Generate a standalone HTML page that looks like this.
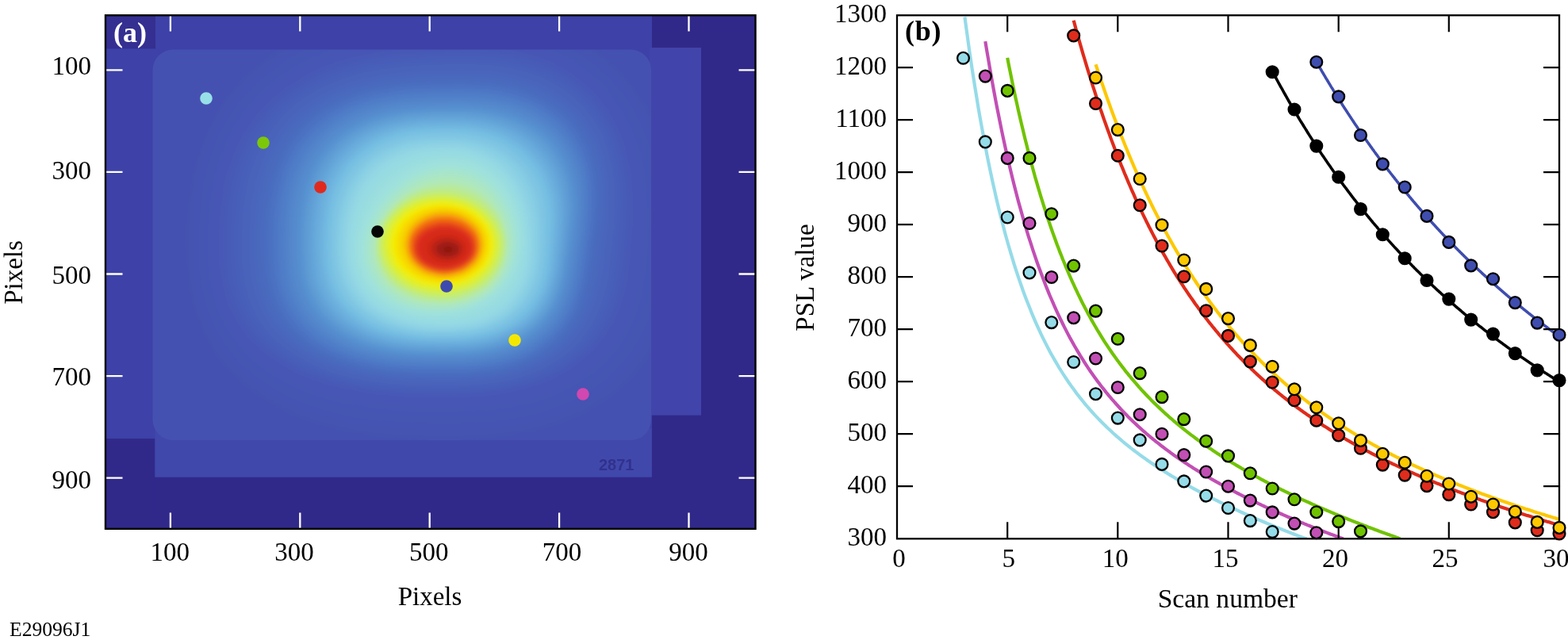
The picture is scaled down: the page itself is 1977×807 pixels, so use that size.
<!DOCTYPE html>
<html><head><meta charset="utf-8"><style>
html,body{margin:0;padding:0;background:#fff;}
body{width:1977px;height:807px;overflow:hidden;}
svg{display:block;}
</style></head><body>
<svg width="1977" height="807" viewBox="0 0 1977 807">
<rect width="1977" height="807" fill="#fff"/>
<g id="pa">
<defs>
<clipPath id="ca"><rect x="133" y="19.3" width="819.5" height="647.5"/></clipPath>
<clipPath id="cp"><rect x="192.5" y="62.4" width="628.5" height="492.6" rx="26"/></clipPath>
<filter id="hb" x="-5%" y="-5%" width="110%" height="110%"><feGaussianBlur stdDeviation="3"/></filter>
</defs>
<g clip-path="url(#ca)">
<rect x="133" y="19" width="820" height="648" fill="#3d41a8"/>
<rect x="822" y="19" width="131" height="41.2" fill="#31298a"/>
<rect x="884" y="60" width="69" height="607" fill="#31298a"/>
<rect x="822" y="523.6" width="131" height="144" fill="#31298a"/>
<rect x="133" y="601.5" width="820" height="66" fill="#31298a"/>
<rect x="133" y="553" width="62.5" height="114" fill="#31298a"/>
<rect x="195.5" y="540" width="626" height="61.5" fill="#4148ac"/>
<rect x="819" y="60.2" width="65" height="463" fill="#4145ab"/>
<rect x="134" y="20" width="62" height="41.4" fill="#352f92"/>
<g clip-path="url(#cp)"><g filter="url(#hb)">
<rect x="180" y="50" width="660" height="520" fill="#4451b0"/>
<path d="M860,310 859,336 857,362 852,388 844,414 834,438 820,460 803,480 784,498 763,513 741,526 718,536 695,544 672,550 649,554 626,557 604,559 582,560 560,560 538,560 516,559 494,558 471,555 447,552 423,547 399,540 374,531 350,520 326,506 303,490 283,470 265,447 251,422 241,396 234,367 231,339 230,310 230,281 233,252 237,223 244,195 254,167 268,141 284,117 303,94 325,75 349,58 374,44 400,33 427,25 454,18 481,14 507,12 534,10 560,10 586,10 613,12 639,15 665,20 691,28 717,38 741,51 764,67 785,85 803,106 819,129 832,153 842,179 850,205 855,231 858,257 860,284Z" fill="#4451b0"/>
<path d="M855,310 854,336 852,361 847,387 839,412 828,435 815,457 798,477 780,494 759,509 738,522 715,532 692,539 670,545 647,549 625,552 603,554 581,555 560,555 539,555 517,554 495,553 472,551 449,547 426,542 402,536 377,528 353,517 330,503 307,487 287,468 269,446 255,421 245,395 238,367 235,338 234,310 234,282 236,253 241,224 248,196 258,169 271,143 287,119 306,97 328,78 351,61 376,48 402,37 429,29 455,22 482,18 508,16 534,15 560,14 586,14 612,16 638,19 664,24 690,32 715,42 739,54 762,70 782,88 800,109 815,131 828,155 838,180 845,206 850,232 853,258 854,284Z" fill="#4452b0"/>
<path d="M849,310 849,335 846,360 841,385 834,410 823,433 810,454 794,474 776,491 755,505 734,518 712,527 690,535 668,541 645,545 624,547 602,549 581,550 560,550 539,550 518,549 496,548 474,546 452,543 428,538 405,532 381,524 357,513 333,500 311,484 291,465 273,444 259,420 248,393 242,366 238,338 238,310 238,282 240,254 245,225 251,198 261,171 274,145 290,121 309,100 331,81 354,65 379,51 404,41 431,32 457,27 483,22 509,20 535,19 560,18 585,19 611,20 637,23 663,28 688,35 713,45 737,57 759,73 779,91 797,111 812,134 824,157 834,182 841,208 845,234 848,259 849,285Z" fill="#4452b1"/>
<path d="M844,310 843,335 841,359 836,384 828,408 818,430 805,452 789,471 771,487 752,502 731,513 709,523 687,530 665,536 644,540 622,542 601,544 581,545 560,545 539,545 519,544 498,543 476,541 454,538 431,534 408,528 384,520 360,510 337,497 315,482 295,463 277,442 263,418 252,392 246,365 242,338 241,310 242,282 244,254 248,226 255,199 265,172 278,147 294,124 313,102 334,84 357,68 381,55 407,44 432,36 458,31 484,27 510,24 535,23 560,23 585,23 610,24 636,27 661,31 687,38 711,48 735,61 757,76 776,94 794,114 808,136 820,160 829,184 836,210 840,235 843,260 844,285Z" fill="#4453b1"/>
<path d="M838,310 838,334 835,359 830,382 823,406 813,428 800,449 785,467 767,484 748,498 727,509 706,519 685,526 663,531 642,535 621,538 600,539 580,540 560,540 540,540 520,539 499,538 478,536 456,533 434,529 411,523 387,516 364,506 341,494 319,479 299,461 281,440 267,417 256,391 249,365 246,337 245,310 246,283 248,255 252,227 259,200 268,174 281,149 297,126 316,105 337,87 359,71 384,58 409,48 434,40 460,35 485,31 510,28 535,27 560,27 585,27 610,28 635,31 660,35 685,42 709,51 733,64 754,79 774,96 791,116 805,138 817,162 825,186 832,211 836,236 838,261 839,286Z" fill="#4553b2"/>
<path d="M833,310 832,334 830,358 825,381 818,404 808,426 795,446 780,464 763,480 744,494 724,505 703,514 682,521 661,526 640,530 620,533 600,534 580,535 560,535 540,535 520,534 500,533 479,531 458,529 436,525 414,519 391,512 367,503 345,491 323,476 302,459 285,438 270,415 260,390 253,364 250,337 249,310 250,283 252,256 256,228 262,202 272,176 285,151 300,128 319,108 340,90 362,74 386,62 411,52 436,44 461,39 486,35 511,33 536,31 560,31 584,31 609,32 634,34 659,39 683,45 707,55 730,67 752,82 771,99 788,119 802,141 813,164 821,188 827,213 831,237 833,262 833,286Z" fill="#4554b2"/>
<path d="M828,310 827,333 824,357 820,380 813,402 803,423 791,443 776,461 759,477 740,490 720,501 700,510 679,517 659,522 638,525 618,528 599,529 579,530 560,530 541,530 521,529 501,528 481,527 460,524 439,520 416,515 394,508 371,499 348,488 327,473 306,456 289,436 274,414 264,389 257,363 254,337 253,310 253,283 255,256 259,229 266,203 276,177 288,153 304,130 322,110 342,92 365,77 389,65 413,56 438,48 463,43 487,39 512,37 536,36 560,35 584,35 608,36 633,38 657,42 682,49 705,58 728,70 749,84 768,102 785,122 798,143 809,166 817,190 823,214 826,239 828,263 828,287Z" fill="#4554b2"/>
<path d="M822,310 821,333 819,356 814,378 807,400 798,421 786,440 771,458 754,473 736,486 717,497 697,505 677,512 657,517 637,521 617,523 598,524 579,525 560,525 541,525 522,524 503,523 483,522 462,519 441,516 419,511 397,504 375,495 352,484 330,471 310,454 293,435 278,413 268,388 261,363 258,336 257,310 257,284 259,257 263,230 270,204 279,179 291,155 307,133 325,113 345,95 368,81 391,69 415,59 440,52 464,47 489,43 513,41 536,40 560,39 584,39 608,40 632,42 656,46 680,52 704,61 726,73 747,87 765,105 781,124 795,146 805,168 813,192 818,216 821,240 823,264 823,287Z" fill="#4555b3"/>
<path d="M817,310 816,332 813,355 809,377 802,398 793,419 781,438 767,455 750,470 732,482 713,493 694,501 674,508 654,512 635,516 616,518 597,519 578,520 560,520 542,520 523,519 504,519 485,517 465,515 444,511 422,507 400,500 378,492 356,481 334,468 314,452 297,433 282,411 271,387 265,362 261,336 261,310 261,284 263,258 267,231 273,206 283,181 295,157 310,135 328,115 348,98 370,84 393,72 417,63 442,56 466,51 490,47 513,45 537,44 560,44 583,43 607,44 631,46 655,50 678,56 702,65 724,76 744,90 763,107 778,127 791,148 801,171 809,194 814,218 816,241 818,265 818,287Z" fill="#4556b3"/>
<path d="M812,310 810,332 808,354 803,375 797,396 788,416 776,435 762,451 746,466 728,478 710,489 691,497 671,503 652,508 633,511 614,513 596,514 578,515 560,515 542,515 524,515 505,514 486,512 467,510 446,507 425,502 404,496 382,488 360,478 338,465 318,450 300,431 286,410 275,386 268,361 265,336 264,310 265,284 267,258 271,232 277,207 286,182 298,159 313,137 331,118 351,101 373,87 396,76 420,67 443,60 467,55 491,52 514,50 537,48 560,48 583,47 606,48 630,50 653,54 677,59 700,68 722,79 742,93 760,110 775,129 788,150 798,173 804,196 809,219 812,243 813,265 812,288Z" fill="#4656b4"/>
<path d="M806,310 805,331 802,353 798,374 791,394 783,414 771,432 757,448 742,463 725,475 706,485 688,492 669,498 650,503 631,506 613,508 595,509 577,510 560,510 543,510 525,510 507,509 488,507 469,505 449,502 428,498 407,492 385,485 363,475 342,463 322,447 304,429 290,408 279,385 272,361 269,335 268,310 269,285 270,259 274,233 281,208 290,184 302,161 317,140 334,121 354,104 376,90 398,79 422,70 445,64 469,59 492,56 515,54 537,53 560,52 583,52 606,52 629,54 652,57 675,63 698,71 719,82 739,96 757,113 772,132 784,153 794,175 800,198 805,221 807,244 807,266 807,288Z" fill="#4657b4"/>
<path d="M801,310 799,331 797,352 792,372 786,392 777,411 766,429 753,445 738,459 721,471 703,480 685,488 666,494 648,498 630,501 612,503 594,504 577,505 560,505 543,505 526,505 508,504 490,503 471,501 452,498 431,494 410,488 389,481 367,472 346,460 326,445 308,427 294,407 283,384 276,360 273,335 272,310 273,285 274,260 278,234 284,210 293,186 305,163 320,142 337,123 357,107 378,94 401,83 424,74 447,68 470,63 493,60 516,58 538,57 560,56 582,56 605,56 628,58 651,61 674,66 696,74 717,85 737,99 754,116 769,135 781,155 790,177 796,200 800,223 802,245 802,267 802,289Z" fill="#4657b5"/>
<path d="M795,310 794,330 791,351 787,371 781,390 772,409 761,426 748,442 733,455 717,467 700,476 682,484 664,489 646,493 628,496 610,498 593,499 577,500 560,500 543,500 527,500 509,499 492,498 473,496 454,493 434,490 414,485 392,478 371,469 350,457 330,443 312,426 298,406 287,383 280,359 277,335 276,310 276,285 278,260 282,235 288,211 297,187 309,165 323,144 341,126 360,110 381,97 403,86 426,78 449,72 472,67 494,64 516,62 538,61 560,60 582,60 604,60 627,61 649,65 672,70 694,78 715,88 734,102 752,118 766,137 777,158 786,179 792,202 796,224 797,246 797,268 797,289Z" fill="#4658b5"/>
<path d="M791,310 790,330 787,350 783,370 777,389 769,407 758,425 746,440 731,453 715,465 698,474 680,482 662,487 645,491 627,494 610,496 593,497 576,498 560,498 544,498 527,497 510,497 492,496 474,494 455,491 436,487 415,482 394,476 373,467 353,455 333,441 316,424 302,404 291,382 285,359 281,334 281,310 281,286 283,261 286,237 292,213 301,189 312,167 327,147 344,129 363,113 384,100 405,89 428,81 450,75 473,71 495,68 517,66 539,65 560,64 582,63 603,63 626,65 648,68 670,73 692,81 713,92 732,105 749,121 763,140 775,160 783,181 789,203 792,226 794,247 794,269 793,290Z" fill="#465ab6"/>
<path d="M788,310 786,330 783,349 779,369 774,388 765,406 755,423 743,438 728,451 713,463 696,472 679,479 661,485 644,489 626,492 609,494 593,495 576,495 560,496 544,495 527,495 511,495 493,493 475,492 457,489 437,485 417,480 397,473 376,465 355,453 336,439 320,422 306,403 296,381 289,358 286,334 285,310 286,286 287,262 291,238 297,214 305,191 316,169 330,149 347,131 366,116 386,103 408,92 430,84 452,78 474,74 496,71 518,69 539,68 560,67 581,67 603,67 625,68 647,71 669,77 690,84 711,95 730,108 746,124 760,142 772,162 780,183 785,205 789,227 790,248 790,269 789,290Z" fill="#475bb7"/>
<path d="M784,310 782,329 779,349 776,368 770,386 762,404 752,421 740,436 726,449 711,461 694,470 677,477 660,483 642,487 625,490 609,492 592,493 576,493 560,493 544,493 528,493 511,492 494,491 476,489 458,487 439,483 419,478 399,471 378,463 358,451 340,437 323,420 310,401 300,380 294,357 291,334 290,310 291,286 292,263 295,239 301,216 309,193 320,172 334,152 350,134 369,119 389,106 410,95 432,87 453,81 475,77 497,74 518,73 539,71 560,71 581,70 602,71 624,72 646,75 667,80 688,87 709,98 727,111 744,126 758,144 769,164 777,185 782,206 785,228 786,249 786,270 785,290Z" fill="#475db8"/>
<path d="M780,310 778,329 775,348 772,367 766,385 759,403 749,419 737,434 724,447 708,458 692,468 676,475 658,481 641,485 625,488 608,489 592,490 576,491 560,491 544,491 528,491 512,490 495,489 477,487 459,485 440,481 421,476 401,469 381,460 361,449 343,435 327,419 314,400 304,379 298,356 296,333 295,310 295,287 297,264 300,240 305,217 313,195 324,174 337,154 353,137 371,121 391,109 412,99 433,91 455,85 476,81 498,78 519,76 539,75 560,74 581,74 602,74 623,75 644,78 666,83 687,91 707,101 725,113 741,129 755,147 766,166 773,187 779,208 782,229 783,250 782,271 781,291Z" fill="#475fb8"/>
<path d="M776,310 774,329 772,347 768,366 762,384 755,401 746,417 734,432 721,445 706,456 690,465 674,473 657,478 640,482 624,485 607,487 591,488 576,489 560,489 544,489 529,488 512,488 496,487 478,485 460,482 442,479 423,474 403,467 383,458 364,447 346,433 331,417 318,398 309,377 303,355 300,333 300,310 300,287 301,264 305,242 310,219 318,197 328,176 341,157 357,139 374,124 394,112 414,102 435,94 457,88 478,84 499,81 519,79 540,78 560,78 580,77 601,78 622,79 643,82 664,87 685,94 704,104 723,116 739,131 752,149 763,168 770,189 775,210 778,231 779,251 779,271 777,291Z" fill="#4860b9"/>
<path d="M772,310 770,328 768,347 764,365 759,382 752,399 743,415 732,430 719,443 704,454 689,463 672,471 656,476 639,480 623,483 607,485 591,486 575,486 560,487 545,486 529,486 513,486 496,484 479,483 462,480 443,477 424,472 405,465 386,456 367,445 349,432 334,415 322,397 313,376 308,355 305,332 304,310 305,288 306,265 309,243 314,221 322,199 332,178 345,159 360,142 377,127 396,115 416,105 437,97 458,91 479,87 500,85 520,83 540,82 560,81 580,81 600,81 621,82 642,85 663,90 683,97 702,107 720,119 736,134 749,151 760,170 767,190 772,211 775,232 775,252 775,272 774,291Z" fill="#4862ba"/>
<path d="M768,310 766,328 764,346 760,364 755,381 748,398 740,414 729,428 716,441 702,452 687,461 671,468 655,474 638,478 622,481 606,483 591,484 575,484 560,484 545,484 529,484 514,483 497,482 480,481 463,478 445,474 426,470 407,463 388,454 370,443 353,430 338,414 326,395 317,375 312,354 310,332 309,310 310,288 311,266 314,244 319,222 326,201 336,180 348,162 363,145 380,130 399,118 419,108 439,100 460,95 480,91 501,88 521,86 540,85 560,85 580,84 600,85 620,86 641,89 661,93 681,100 700,110 718,122 733,137 746,154 757,172 764,192 769,213 771,233 772,253 771,273 770,292Z" fill="#4864bb"/>
<path d="M764,310 762,328 760,345 756,363 751,380 745,396 736,412 726,426 714,439 700,450 685,459 669,466 653,472 637,476 621,479 606,480 590,481 575,482 560,482 545,482 530,482 514,481 498,480 482,478 464,476 446,472 428,467 409,461 391,452 373,441 356,428 342,412 330,394 322,374 317,353 314,331 314,310 314,288 315,267 318,245 323,224 330,203 340,183 352,164 366,147 383,133 401,121 421,111 441,103 461,98 481,94 501,91 521,90 541,89 560,88 579,88 599,88 619,89 639,92 659,97 679,104 698,113 715,125 731,139 744,156 754,174 761,194 765,214 768,234 768,254 767,273 766,292Z" fill="#4965bc"/>
<path d="M760,310 758,327 756,345 752,362 748,378 741,395 733,410 723,424 711,437 698,448 683,457 668,464 652,470 636,474 621,476 605,478 590,479 575,480 560,480 545,480 530,479 515,479 499,478 483,476 466,474 448,470 430,465 411,459 393,450 375,439 359,426 345,410 334,392 326,373 321,352 319,331 319,310 319,289 320,268 323,246 327,225 334,205 343,185 355,167 369,150 386,136 404,124 423,114 443,107 463,101 483,97 502,95 522,93 541,92 560,92 579,91 598,92 618,93 638,96 658,100 677,107 696,116 713,128 728,142 741,158 751,176 758,196 762,216 764,236 765,255 764,274 762,292Z" fill="#4967bc"/>
<path d="M756,310 754,327 752,344 749,361 744,377 738,393 730,408 720,422 709,435 696,446 681,455 666,462 651,467 635,471 620,474 604,476 589,477 575,477 560,478 545,477 531,477 515,477 500,476 484,474 467,471 449,468 432,463 413,457 395,448 378,437 362,424 349,408 338,391 331,371 326,351 324,331 323,310 324,289 325,269 327,248 332,227 338,207 347,187 359,169 373,153 389,139 406,127 425,117 444,110 464,104 484,101 503,98 522,97 541,96 560,95 579,95 598,95 617,96 637,99 656,104 675,110 694,119 711,131 726,144 738,161 748,179 755,198 759,217 761,237 761,256 760,275 758,293Z" fill="#4969bd"/>
<path d="M752,310 750,327 748,343 745,359 740,376 735,391 727,406 718,420 706,433 694,444 680,453 665,460 650,465 634,469 619,472 604,474 589,475 574,475 560,475 546,475 531,475 516,474 501,473 485,472 468,469 451,466 433,461 416,454 398,446 381,435 366,422 353,407 342,389 335,370 331,350 329,330 328,310 328,290 330,269 332,249 336,229 342,209 351,189 362,172 376,156 392,142 409,130 427,120 446,113 466,108 485,104 504,102 523,100 542,99 560,99 579,99 597,99 616,100 635,103 655,107 674,113 692,122 708,133 723,147 735,163 745,181 751,199 756,219 757,238 757,257 756,275 754,293Z" fill="#4a6abe"/>
<path d="M748,310 746,326 744,342 741,358 737,374 731,390 724,405 715,418 704,431 691,441 678,450 663,457 648,463 633,467 618,470 603,471 589,472 574,473 560,473 546,473 531,473 517,472 501,471 486,469 469,467 452,464 435,459 418,452 400,444 384,433 369,420 356,405 346,388 339,369 335,350 333,330 333,310 333,290 334,270 337,250 341,230 347,211 355,192 366,174 379,158 394,144 411,133 429,123 448,116 467,111 486,107 505,105 524,104 542,103 560,102 578,102 597,102 615,104 634,106 653,110 672,117 689,125 706,136 720,150 732,165 742,183 748,201 752,220 754,239 754,258 752,276 750,293Z" fill="#4a6cbf"/>
<path d="M745,310 743,326 741,342 738,358 734,373 729,389 721,403 712,417 702,429 689,439 676,448 662,455 647,461 632,465 617,467 603,469 588,470 574,470 560,471 546,470 532,470 517,470 502,469 487,467 471,465 454,461 437,456 420,450 403,442 387,431 372,418 360,403 350,386 344,368 339,349 338,329 337,310 337,291 338,271 341,251 345,232 351,212 359,194 369,177 382,161 397,147 414,136 432,127 450,119 469,114 487,111 506,108 524,107 542,106 560,106 578,105 596,106 614,107 633,109 652,113 670,120 687,128 703,139 718,152 730,168 739,185 745,203 749,222 751,240 751,259 750,277 748,294Z" fill="#4b70c1"/>
<path d="M743,310 741,326 738,341 735,357 731,372 726,387 719,402 710,415 699,427 687,437 674,446 660,453 646,458 631,462 616,465 602,467 588,468 574,468 560,468 546,468 532,468 518,467 503,466 488,465 472,462 456,459 439,454 422,448 406,439 390,429 376,416 364,402 354,385 348,367 344,348 342,329 342,310 342,291 343,272 345,252 349,233 355,214 363,196 373,179 386,164 400,150 416,139 434,130 452,123 470,117 489,114 507,111 525,110 542,109 560,109 578,109 595,109 614,110 632,113 650,117 668,123 685,131 701,142 715,155 727,170 736,187 742,205 746,223 748,242 748,260 747,277 745,294Z" fill="#4c73c2"/>
<path d="M740,310 738,326 736,341 733,356 729,371 723,386 716,400 708,413 697,425 685,435 672,444 659,451 644,456 630,460 615,462 601,464 587,465 574,465 560,466 546,465 533,465 519,465 504,464 489,462 474,460 458,456 441,452 425,445 408,437 393,427 379,414 367,400 358,383 352,366 348,347 346,329 346,310 346,291 347,272 349,254 353,235 358,216 366,198 376,181 389,166 403,153 419,142 436,133 454,126 472,121 490,117 508,115 525,113 543,113 560,112 577,112 595,112 613,113 631,116 649,120 666,126 683,134 699,145 713,157 724,172 733,189 740,206 743,224 745,243 745,260 744,278 742,294Z" fill="#4e77c4"/>
<path d="M737,310 735,325 733,340 730,356 726,370 721,385 714,399 705,412 695,423 683,433 671,442 657,448 643,454 629,457 615,460 601,462 587,463 573,463 560,463 547,463 533,463 519,462 505,461 490,460 475,457 459,454 443,449 427,443 411,435 396,425 383,412 371,398 362,382 356,365 352,347 351,328 350,310 350,292 351,273 353,255 357,236 362,218 370,200 380,184 392,169 406,156 421,145 438,136 456,129 473,124 491,120 509,118 526,117 543,116 560,116 577,115 594,116 612,117 629,119 647,123 664,129 681,137 696,147 710,160 721,175 730,191 737,208 741,226 742,244 742,261 741,278 739,294Z" fill="#4f7ac6"/>
<path d="M734,310 732,325 730,340 727,355 723,369 718,384 711,397 703,410 693,421 681,431 669,440 655,446 642,451 628,455 614,457 600,459 586,460 573,460 560,461 547,460 534,460 520,460 506,459 491,457 476,455 461,451 445,447 429,441 414,433 399,423 386,411 375,396 366,381 360,364 356,346 355,328 354,310 355,292 356,274 358,256 361,238 366,220 374,202 383,186 395,172 409,159 424,148 440,139 457,132 475,127 492,124 509,121 527,120 543,119 560,119 577,119 594,119 611,120 628,123 646,126 663,132 679,140 694,150 707,163 719,177 728,193 734,210 738,227 739,245 739,262 738,279 736,295Z" fill="#507ec8"/>
<path d="M731,310 729,325 727,339 724,354 721,368 715,382 709,396 701,408 691,420 679,429 667,437 654,444 640,449 626,453 613,455 599,457 586,458 573,458 560,458 547,458 534,458 521,457 507,456 493,455 478,452 463,449 447,444 432,438 417,430 402,420 389,409 378,395 370,379 364,362 361,345 359,328 359,310 359,292 360,275 362,257 365,239 370,222 378,205 387,189 398,174 412,162 426,151 442,142 459,135 476,130 493,127 510,125 527,123 544,123 560,122 576,122 593,122 610,123 627,126 644,130 661,135 677,143 692,153 705,165 716,179 725,195 731,211 735,229 736,246 736,263 735,279 733,295Z" fill="#5182c9"/>
<path d="M729,310 727,325 724,339 722,353 718,367 713,381 706,394 698,407 688,418 677,427 665,435 652,442 639,447 625,450 612,453 599,454 586,455 573,455 560,456 547,455 534,455 521,455 508,454 494,452 479,450 464,446 449,442 434,436 419,428 405,418 393,407 382,393 374,378 368,361 365,344 363,327 363,310 363,293 364,275 366,258 369,241 374,223 381,207 390,191 401,177 414,164 429,154 445,145 461,139 478,134 495,130 511,128 528,127 544,126 560,126 576,125 593,126 609,127 626,129 643,133 659,138 675,146 689,156 702,168 713,181 722,197 728,213 732,230 733,247 733,264 732,280 731,295Z" fill="#5285cb"/>
<path d="M726,310 724,324 722,339 719,353 715,366 710,380 704,393 696,405 686,416 675,425 663,433 651,439 637,444 624,448 611,450 598,452 585,453 573,453 560,453 547,453 535,453 522,452 509,451 495,450 481,447 466,444 451,440 436,434 422,426 408,416 396,405 386,391 378,376 372,360 369,344 368,327 367,310 368,293 368,276 370,259 373,242 378,225 385,209 394,194 405,180 417,167 432,157 447,148 463,142 479,137 496,133 512,131 528,130 544,129 560,129 576,129 592,129 608,130 625,132 641,136 657,142 673,149 687,159 700,170 711,184 719,199 725,215 729,231 730,248 731,264 729,280 728,295Z" fill="#5489cd"/>
<path d="M723,310 721,324 719,338 716,352 712,365 708,379 701,392 693,403 684,414 673,423 662,431 649,437 636,442 623,445 610,448 597,449 585,450 572,450 560,451 548,450 535,450 523,450 510,449 496,447 482,445 468,442 453,437 439,431 425,424 411,414 399,403 390,390 382,375 377,359 373,343 372,326 372,310 372,294 373,277 374,260 377,244 382,227 389,211 397,196 408,182 420,170 434,160 449,152 465,145 481,140 497,137 513,135 529,133 544,133 560,132 576,132 591,132 607,133 623,136 640,139 655,145 671,152 685,161 697,173 708,186 716,201 722,216 726,233 728,249 728,265 727,281 725,296Z" fill="#558cce"/>
<path d="M720,310 718,324 716,338 713,351 710,365 705,378 699,390 691,402 682,412 671,421 660,429 647,435 635,439 622,443 609,445 597,447 584,448 572,448 560,448 548,448 536,448 523,447 510,446 497,445 484,442 470,439 455,435 441,429 427,421 414,412 403,401 393,388 386,373 381,358 378,342 376,326 376,310 376,294 377,278 379,261 382,245 386,229 393,213 401,199 411,185 423,173 437,163 451,155 467,148 482,143 498,140 514,138 529,137 545,136 560,136 575,135 591,136 606,137 622,139 638,143 654,148 669,155 682,164 695,175 705,188 713,203 719,218 723,234 725,250 725,266 724,281 722,296Z" fill="#5690d0"/>
<path d="M717,310 715,324 713,337 711,350 707,364 702,376 696,389 689,400 680,410 669,419 658,427 646,433 633,437 621,440 608,443 596,444 584,445 572,445 560,446 548,445 536,445 524,445 511,444 498,442 485,440 471,437 457,432 444,426 430,419 418,410 406,399 397,386 390,372 385,357 382,341 381,326 380,310 380,294 381,278 383,263 386,247 390,231 396,216 404,201 414,188 426,176 439,166 453,158 468,151 484,147 499,143 515,141 530,140 545,139 560,139 575,139 590,139 606,140 621,142 636,146 652,151 666,158 680,167 692,178 702,191 710,205 716,220 719,236 721,251 721,267 720,282 719,296Z" fill="#5a96d2"/>
<path d="M714,310 712,323 710,337 708,350 704,363 700,375 694,387 686,398 677,408 667,417 656,424 644,430 632,435 620,438 607,440 595,442 583,443 572,443 560,443 548,443 537,443 525,442 512,441 500,440 486,437 473,434 460,430 446,424 433,417 421,407 410,397 401,384 394,370 389,356 386,341 385,325 384,310 385,295 385,279 387,264 390,248 394,233 400,218 408,204 418,191 429,179 442,169 456,161 470,155 485,150 500,146 516,144 531,143 545,142 560,142 575,142 590,142 605,143 620,146 635,149 650,155 664,162 677,171 689,181 698,194 706,208 712,222 716,237 717,253 718,268 717,282 715,296Z" fill="#5e9bd4"/>
<path d="M711,310 709,323 707,336 705,349 702,362 697,374 691,386 684,397 675,406 665,415 654,422 642,428 631,432 619,435 606,438 595,439 583,440 571,440 560,441 549,440 537,440 525,440 513,439 501,437 488,435 475,432 462,427 449,421 436,414 424,405 413,395 405,382 398,369 393,355 390,340 389,325 389,310 389,295 390,280 391,265 394,250 398,235 404,220 412,206 421,193 432,182 444,172 458,164 472,158 487,153 502,150 516,147 531,146 546,145 560,145 574,145 589,145 604,147 619,149 633,153 648,158 661,165 674,174 686,184 695,197 703,210 708,224 712,239 714,254 714,269 713,283 712,297Z" fill="#61a0d7"/>
<path d="M708,310 706,323 705,335 702,348 699,361 694,373 689,384 681,395 673,405 663,413 652,420 641,425 629,430 617,433 606,435 594,437 582,438 571,438 560,438 549,438 537,438 526,437 514,436 502,435 489,432 477,429 464,425 451,419 439,412 427,403 417,393 408,381 402,368 397,354 395,339 393,325 393,310 393,295 394,281 395,266 398,251 402,236 408,222 415,209 424,196 435,185 447,175 460,167 474,161 488,156 503,153 517,150 532,149 546,148 560,148 574,148 588,149 603,150 617,152 632,156 646,162 659,168 671,177 682,188 692,199 699,212 705,226 708,241 710,255 711,270 710,284 709,297Z" fill="#65a6d9"/>
<path d="M705,310 703,323 702,335 699,347 696,360 692,371 686,383 679,393 670,403 661,411 650,418 639,423 628,427 616,431 605,433 593,434 582,435 571,435 560,436 549,435 538,435 527,435 515,434 503,432 491,430 478,426 466,422 454,416 442,409 430,401 421,391 412,379 406,366 401,352 399,338 398,324 397,310 397,296 398,281 400,267 402,253 406,238 412,224 419,211 428,199 438,188 450,178 462,170 476,164 490,159 504,156 518,154 532,152 546,152 560,151 574,151 588,152 602,153 616,156 630,160 644,165 657,172 669,180 679,191 688,202 696,215 701,229 705,243 707,257 707,271 707,284 706,297Z" fill="#69acdb"/>
<path d="M701,310 700,322 699,334 697,347 693,359 689,370 683,381 676,392 668,401 659,409 648,415 638,421 626,425 615,428 604,430 593,432 582,433 571,433 560,433 549,433 538,433 527,432 516,431 504,429 492,427 480,424 468,420 456,414 444,407 434,399 424,388 416,377 410,365 406,351 403,338 402,324 401,310 402,296 402,282 404,268 406,254 410,240 415,227 422,214 431,202 441,191 452,181 464,174 478,167 491,163 505,159 519,157 533,155 546,155 560,155 574,155 587,155 601,157 615,159 629,163 642,168 654,175 666,184 676,194 685,205 692,217 697,231 701,244 703,258 704,272 703,285 702,298Z" fill="#6cb1de"/>
<path d="M698,310 697,322 696,334 694,346 691,358 686,369 681,380 674,390 666,399 657,407 647,413 636,418 625,423 614,426 603,428 592,429 581,430 571,430 560,431 549,430 539,430 528,430 517,429 505,427 494,425 482,421 470,417 458,412 447,405 437,396 428,386 420,375 414,363 410,350 407,337 406,323 406,310 406,297 407,283 408,269 410,256 414,242 419,229 426,216 434,204 444,194 455,184 467,177 479,170 493,166 506,162 520,160 533,159 547,158 560,158 573,158 587,158 600,160 614,163 627,166 640,172 652,179 663,187 673,197 682,208 689,220 694,233 697,246 699,259 700,272 700,285 699,298Z" fill="#70b6e0"/>
<path d="M695,310 694,322 693,333 691,345 688,357 684,368 678,378 672,388 664,397 655,405 645,411 634,416 624,420 613,423 602,425 591,427 581,428 570,428 560,428 550,428 539,428 529,427 518,426 507,424 495,422 484,419 472,415 461,409 450,402 440,394 431,384 424,374 418,362 414,349 411,336 410,323 410,310 410,297 411,284 412,270 415,257 418,244 423,231 430,219 437,207 447,197 457,188 469,180 481,174 494,169 507,165 521,163 534,162 547,161 560,161 573,161 586,162 599,163 612,166 625,170 638,175 650,182 661,190 670,200 679,211 685,222 690,235 694,248 696,261 697,273 696,286 696,298Z" fill="#74bce2"/>
<path d="M692,310 691,321 690,333 688,344 685,355 681,366 675,377 669,386 661,395 652,402 643,409 633,414 622,418 612,421 601,423 591,425 580,426 570,426 560,426 550,426 540,426 529,425 519,424 508,422 497,420 485,417 474,412 463,407 453,400 443,392 434,383 427,372 421,360 417,348 415,336 414,323 413,310 414,297 414,284 416,271 418,258 422,245 427,233 433,221 440,210 449,199 460,191 471,183 483,177 496,172 509,169 521,166 534,165 547,164 560,164 573,164 586,165 598,167 611,169 624,173 636,179 647,185 658,193 667,203 675,213 682,225 686,237 690,249 692,262 693,274 693,287 692,298Z" fill="#78c0e2"/>
<path d="M688,310 688,321 686,332 685,343 682,354 678,365 673,375 666,384 659,393 650,400 641,407 631,412 621,416 611,419 600,421 590,423 580,423 570,424 560,424 550,424 540,424 530,423 519,422 509,420 498,418 487,414 476,410 465,405 455,398 446,390 437,381 430,371 425,359 421,347 418,335 417,322 417,310 417,298 418,285 419,272 422,260 425,247 430,235 436,223 443,212 452,202 462,194 473,186 485,180 497,175 510,172 522,169 535,168 548,167 560,167 572,167 585,168 598,170 610,173 622,177 634,182 645,189 655,197 664,206 672,216 678,227 683,239 686,251 688,263 689,275 689,287 689,299Z" fill="#7cc3e2"/>
<path d="M685,310 684,321 683,332 681,343 679,353 675,364 670,373 664,383 656,391 648,398 639,404 630,410 620,414 610,417 600,419 590,421 580,421 570,422 560,422 550,422 540,422 530,421 520,420 510,418 499,416 488,412 478,408 467,403 458,396 448,388 440,379 433,369 428,358 424,346 422,334 421,322 420,310 421,298 421,286 423,273 425,261 429,249 433,237 439,225 447,215 455,205 465,197 475,189 487,183 499,179 511,175 523,173 536,171 548,171 560,170 572,170 584,171 597,173 609,176 621,180 632,185 643,192 652,200 661,209 668,219 674,230 679,241 682,253 684,265 685,276 686,288 685,299Z" fill="#80c6e3"/>
<path d="M682,310 681,321 680,331 678,342 676,352 672,362 667,372 661,381 654,389 646,396 637,402 628,407 619,411 609,415 599,417 589,418 579,419 570,420 560,420 550,420 541,420 531,419 521,418 511,416 500,413 490,410 480,406 470,400 460,394 451,386 443,377 437,367 432,357 428,345 425,334 424,322 424,310 424,298 425,286 426,274 429,262 432,250 437,239 442,228 450,217 458,208 467,199 478,192 489,186 500,182 512,178 524,176 536,174 548,174 560,173 572,174 584,175 596,176 608,179 619,183 630,189 640,195 649,203 658,212 665,222 670,233 675,244 678,255 680,266 681,277 682,288 682,299Z" fill="#84cae3"/>
<path d="M678,310 678,320 677,331 675,341 672,351 669,361 664,370 658,379 652,387 644,394 636,400 627,405 617,409 608,412 598,415 589,416 579,417 569,418 560,418 551,418 541,418 531,417 522,416 512,414 502,411 491,408 481,404 472,398 462,392 454,384 446,376 440,366 435,356 431,344 429,333 428,322 427,310 428,298 428,287 430,275 432,263 436,252 440,241 446,230 453,220 461,211 470,202 480,195 490,190 502,185 513,181 525,179 537,178 548,177 560,177 572,177 583,178 595,180 606,183 617,187 628,192 638,199 647,207 655,215 661,225 667,235 671,246 674,257 676,268 678,278 678,289 678,300Z" fill="#88cee3"/>
<path d="M675,310 674,320 674,330 672,340 669,350 666,359 661,368 656,377 649,385 642,392 634,398 625,403 616,407 607,410 597,413 588,414 579,415 569,416 560,416 551,416 541,416 532,415 522,413 513,412 503,409 493,406 483,401 474,396 465,390 457,382 449,374 443,364 438,354 435,344 432,332 431,321 431,310 431,299 432,287 433,276 436,265 439,254 443,243 449,232 456,222 463,213 472,205 482,199 492,193 503,188 514,185 526,182 537,181 549,180 560,180 571,180 583,181 594,183 605,186 616,190 626,196 635,202 644,210 651,219 658,228 663,238 667,248 670,259 673,269 674,279 675,290 675,300Z" fill="#8cd1e4"/>
<path d="M671,310 671,320 670,329 669,339 666,349 663,358 658,367 653,375 647,383 640,390 632,396 624,401 615,405 606,408 597,411 587,412 578,413 569,414 560,414 551,414 542,413 532,413 523,411 514,409 504,407 495,403 485,399 476,394 467,388 459,380 452,372 446,363 442,353 438,343 436,332 435,321 434,310 435,299 435,288 437,277 439,266 442,255 447,245 452,234 459,225 466,216 475,208 484,202 494,196 505,191 516,188 527,185 538,184 549,183 560,183 571,183 582,184 593,186 604,189 614,194 624,199 633,206 641,213 648,222 654,231 659,240 663,250 666,260 669,270 670,280 671,290 671,300Z" fill="#90d4e4"/>
<path d="M668,310 668,319 667,329 666,338 663,348 660,357 656,365 650,373 644,381 638,388 630,393 622,398 613,403 605,406 596,408 587,410 578,411 569,412 560,412 551,412 542,411 533,411 524,409 515,407 505,405 496,401 487,397 478,392 470,386 462,378 455,370 450,361 445,352 442,342 439,331 438,321 438,310 438,299 439,289 440,278 443,267 446,257 450,247 455,237 462,228 469,219 477,211 486,205 496,199 506,195 517,191 527,189 538,187 549,186 560,186 571,186 582,187 592,189 603,193 613,197 622,202 631,209 638,217 645,225 651,234 656,243 660,253 663,262 665,272 666,281 667,291 668,301Z" fill="#94d8e4"/>
<path d="M666,310 665,319 664,328 663,338 660,346 657,355 653,363 648,371 642,378 635,385 628,391 620,395 612,400 603,403 595,405 586,407 577,408 569,409 560,409 551,409 543,409 534,408 525,407 516,405 507,402 498,399 489,395 480,390 472,384 465,377 458,369 452,360 448,351 444,341 442,331 441,320 441,310 441,300 442,289 444,279 446,269 450,259 454,249 459,239 465,231 473,223 480,215 489,209 498,203 508,199 518,195 528,192 539,191 549,190 560,189 571,189 581,190 592,192 602,196 611,200 621,205 629,212 636,219 643,227 649,236 653,245 657,254 660,263 663,273 664,282 665,291 666,301Z" fill="#96dae3"/>
<path d="M663,310 663,319 662,328 660,337 657,345 654,354 650,362 645,369 639,376 632,382 625,388 618,392 610,396 602,400 593,402 585,404 577,405 568,406 560,406 552,406 543,406 534,405 526,404 517,402 508,400 499,397 491,393 482,388 474,382 467,375 460,367 455,359 450,350 447,340 445,330 444,320 444,310 444,300 445,290 447,280 450,270 453,260 458,251 463,242 469,234 476,226 484,219 492,213 501,207 510,203 520,199 529,196 540,194 550,193 560,192 570,192 581,193 591,195 601,199 610,203 619,208 627,214 635,221 641,229 647,237 651,246 655,255 658,264 660,273 662,283 663,292 663,301Z" fill="#98dbe1"/>
<path d="M661,310 660,319 659,327 657,336 654,344 651,352 647,360 642,367 636,374 630,380 623,385 616,389 608,393 600,396 592,399 584,401 576,402 568,403 560,403 552,404 544,403 535,403 527,402 518,400 509,398 501,395 492,391 484,386 476,380 469,374 463,366 457,358 453,349 450,340 448,330 447,320 447,310 447,300 449,290 451,281 454,271 457,262 462,253 467,245 473,237 479,229 487,223 495,217 503,211 512,207 521,203 530,200 540,198 550,196 560,196 570,196 580,197 590,198 599,201 609,206 617,211 625,217 633,224 639,231 644,239 649,248 653,256 656,265 658,274 660,283 661,292 661,301Z" fill="#9adde0"/>
<path d="M659,310 658,319 656,327 654,335 651,343 648,351 644,358 639,365 633,371 627,377 621,382 614,386 606,390 599,393 591,396 583,398 576,399 568,400 560,401 552,401 544,401 536,400 528,399 519,398 511,395 502,392 494,389 486,384 479,378 472,372 465,365 460,357 456,348 453,339 450,329 449,320 449,310 450,300 452,291 454,282 457,273 461,264 466,256 471,248 477,240 483,233 490,226 497,221 505,215 514,211 522,207 531,204 541,201 550,200 560,199 570,199 579,200 589,201 598,204 607,208 616,213 624,219 631,226 637,233 642,241 647,249 651,258 654,266 656,275 658,284 658,293 659,301Z" fill="#9cdfdf"/>
<path d="M656,310 655,318 654,327 651,335 649,342 645,350 641,357 636,363 630,369 625,375 618,379 611,383 604,387 597,390 590,392 583,394 575,396 568,397 560,398 552,398 544,398 537,398 528,397 520,395 512,393 504,390 496,387 488,382 481,377 474,370 468,363 463,355 458,347 455,338 453,329 452,319 452,310 453,301 455,291 458,283 461,274 465,266 469,258 475,250 480,243 486,236 493,230 500,225 508,219 516,215 524,211 532,207 541,205 551,203 560,202 569,202 579,203 588,205 597,207 606,211 614,216 622,222 629,228 635,235 640,243 645,251 648,259 651,267 654,276 655,284 656,293 657,302Z" fill="#9ee0dd"/>
<path d="M654,310 653,318 651,326 649,334 646,341 642,348 638,355 633,361 628,367 622,372 616,376 609,380 603,384 596,387 589,389 582,391 575,393 567,394 560,395 553,395 545,395 537,395 529,394 521,393 513,391 505,388 498,384 490,380 483,375 476,369 470,362 465,354 461,346 458,337 456,328 455,319 455,310 456,301 458,292 461,283 465,275 469,267 473,260 478,253 484,246 490,240 496,234 503,229 510,223 517,219 525,215 533,211 542,208 551,206 560,205 569,205 578,206 587,208 596,210 605,214 613,219 620,224 627,230 633,237 638,245 643,252 646,260 649,268 652,277 653,285 654,293 654,302Z" fill="#a0e2dc"/>
<path d="M651,310 650,318 649,326 646,333 644,340 640,347 636,354 631,360 626,365 620,370 614,375 608,379 602,382 595,385 588,387 581,389 574,391 567,392 560,393 553,393 545,393 538,393 530,392 523,390 515,388 507,386 500,382 492,378 485,373 479,367 473,360 468,353 464,345 461,336 459,328 459,319 459,310 460,301 462,293 464,284 468,276 472,269 476,262 481,255 487,249 492,242 499,237 505,232 512,227 519,222 527,218 535,215 543,212 551,210 560,209 569,209 578,210 586,212 595,214 603,218 611,222 618,228 624,234 630,240 635,247 639,254 643,262 646,270 649,278 650,286 651,294 651,302Z" fill="#a3e3d5"/>
<path d="M648,310 648,318 646,325 644,333 641,340 638,346 634,353 630,359 624,364 619,369 613,373 607,377 601,380 594,383 587,386 581,387 574,389 567,390 560,390 553,391 546,391 538,390 531,389 524,388 516,386 509,383 501,380 494,376 488,371 482,365 476,358 472,351 468,344 465,336 463,327 462,319 462,310 463,302 465,293 468,285 471,278 475,270 479,263 484,257 489,251 495,245 501,240 507,235 514,230 521,226 528,222 536,219 544,216 552,215 560,214 568,214 577,214 585,216 593,219 601,222 608,226 615,231 622,237 627,243 632,249 636,256 640,264 643,271 645,279 647,287 648,294 649,302Z" fill="#a6e4ce"/>
<path d="M646,310 645,317 644,325 642,332 639,339 636,345 632,352 628,357 623,363 618,368 612,372 606,376 600,379 593,381 587,384 580,385 574,387 567,388 560,388 553,389 546,388 539,388 532,387 525,385 518,383 510,381 503,377 497,373 490,368 484,363 479,357 475,350 471,342 468,335 466,327 466,318 466,310 467,302 468,294 471,286 474,279 478,272 482,265 487,259 492,253 498,248 503,242 509,238 516,233 522,229 529,226 537,223 544,221 552,219 560,218 568,218 576,219 584,220 592,223 599,226 606,230 613,234 619,240 624,246 629,252 633,259 637,265 640,273 642,280 644,287 645,295 646,302Z" fill="#aae6c6"/>
<path d="M643,310 642,317 641,324 639,331 637,338 634,344 630,351 626,356 621,361 616,366 611,370 605,374 599,377 592,380 586,382 580,383 573,385 567,386 560,386 553,386 547,386 540,385 533,384 526,383 519,381 512,378 505,375 499,371 493,366 487,361 482,355 478,348 474,341 472,334 470,326 469,318 469,310 470,302 472,294 474,287 477,280 481,273 485,267 490,261 495,255 500,250 506,245 511,241 518,237 524,233 531,230 538,227 545,225 552,223 560,222 568,222 575,223 583,224 590,227 597,230 604,233 610,238 616,243 622,248 626,254 630,261 634,267 637,274 639,281 641,288 642,295 643,303Z" fill="#ade7bf"/>
<path d="M640,310 640,317 639,324 637,331 635,337 632,344 628,349 624,355 620,360 615,365 609,369 604,372 598,375 592,378 585,380 579,381 573,383 566,383 560,384 554,384 547,384 540,383 534,382 527,381 520,379 514,376 507,373 501,369 495,364 490,359 485,353 481,347 478,340 475,333 473,325 473,318 473,310 474,302 475,295 478,288 481,281 484,275 488,269 493,263 497,258 503,253 508,248 514,244 519,240 526,236 532,233 539,231 546,229 553,227 560,227 567,227 575,227 582,229 589,231 596,234 602,237 608,241 614,246 619,251 623,257 627,263 631,269 634,276 636,282 638,289 640,296 640,303Z" fill="#b0e8b8"/>
<path d="M639,310 638,316 637,323 636,329 633,335 630,341 627,347 623,352 619,357 614,362 608,366 603,369 597,372 591,375 585,377 578,379 572,380 565,381 559,381 552,381 545,380 539,380 532,378 526,377 519,374 513,372 507,368 501,364 495,360 490,355 486,350 482,344 479,337 477,331 475,324 474,317 474,310 475,303 476,296 478,289 481,283 484,277 488,271 492,266 497,261 502,256 507,251 513,247 518,244 525,241 531,238 538,236 545,234 552,233 559,232 566,232 573,233 580,234 587,236 594,239 600,242 606,246 611,250 616,255 621,260 625,266 629,271 632,277 634,284 636,290 638,296 638,303Z" fill="#b7e9a0"/>
<path d="M637,309 636,315 635,322 634,328 632,333 629,339 626,344 622,350 618,354 613,359 608,363 602,366 596,369 590,372 584,374 577,376 571,377 564,378 557,378 551,378 544,377 537,376 531,375 524,373 518,370 512,367 506,364 500,360 495,356 491,351 487,346 483,340 480,334 478,328 477,322 476,316 476,309 476,303 477,297 479,291 481,285 484,279 488,274 492,268 496,264 501,259 506,255 512,251 517,248 524,245 530,242 537,240 543,239 550,238 557,238 564,238 571,238 578,240 585,242 591,244 598,247 604,250 609,254 614,259 619,263 623,268 627,274 630,279 632,285 634,291 636,297 637,303Z" fill="#bdeb88"/>
<path d="M635,309 635,315 634,320 632,326 630,332 628,337 624,342 621,347 617,351 612,356 607,360 601,363 596,366 589,369 583,371 576,373 570,374 563,375 556,375 549,375 542,374 536,373 529,371 523,369 516,366 511,363 505,360 500,356 495,351 491,347 488,342 484,337 482,332 480,326 478,320 477,315 477,309 477,303 478,298 480,292 482,286 484,281 488,276 491,271 495,267 500,262 505,258 511,255 516,252 523,249 529,247 536,245 542,244 549,243 556,243 563,243 570,244 576,245 583,247 589,249 596,252 601,255 607,258 612,262 617,267 621,271 624,276 628,281 630,286 632,292 634,298 635,303Z" fill="#c4ec70"/>
<path d="M631,309 631,314 630,320 628,325 626,330 624,335 621,340 617,345 613,349 609,353 604,357 599,360 594,363 588,365 582,367 575,369 569,370 563,371 556,371 549,371 543,370 537,369 530,367 524,365 518,363 513,360 508,357 503,353 499,349 495,345 491,340 488,335 486,330 484,325 482,320 481,314 481,309 481,303 482,298 484,293 486,287 488,282 491,278 495,273 499,269 503,265 508,261 513,258 518,255 524,252 530,250 537,248 543,247 549,246 556,246 563,246 569,247 575,248 582,250 588,252 594,255 599,258 604,261 609,265 613,269 617,273 621,278 624,282 626,287 628,293 630,298 631,303Z" fill="#d0ee50"/>
<path d="M627,308 627,314 626,319 625,324 623,329 620,333 617,338 614,342 610,346 606,350 602,354 597,357 592,360 586,362 580,364 574,365 568,367 562,367 556,368 550,367 544,367 538,365 532,364 526,362 520,360 515,357 510,354 506,350 502,346 498,342 495,338 492,333 489,329 487,324 486,319 485,314 485,308 485,303 486,298 487,293 489,288 492,284 495,279 498,275 502,271 506,267 510,263 515,260 520,257 526,255 532,253 538,252 544,250 550,250 556,250 562,250 568,250 574,252 580,253 586,255 592,257 597,260 602,263 606,267 610,271 614,275 617,279 620,284 623,288 625,293 626,298 627,303Z" fill="#dcf030"/>
<path d="M624,308 623,313 622,318 621,322 619,327 617,331 615,336 611,340 608,344 604,347 600,350 595,353 590,356 585,358 579,360 574,361 568,362 562,363 556,363 551,363 545,362 539,361 534,360 528,358 523,356 518,353 513,350 509,347 505,344 502,340 498,336 496,331 494,327 492,322 491,318 490,313 490,308 490,303 491,299 492,294 494,289 496,285 498,281 502,277 505,273 509,269 513,266 518,263 523,261 528,258 534,257 539,255 545,254 551,253 556,253 562,253 568,254 574,255 579,257 585,258 590,261 595,263 600,266 604,269 608,273 611,277 615,281 617,285 619,289 621,294 622,299 623,303Z" fill="#e9ee18"/>
<path d="M620,308 620,312 619,317 618,321 616,325 614,330 612,334 609,337 605,341 602,344 597,347 593,350 588,352 584,354 579,356 573,357 568,358 562,359 557,359 552,359 546,358 541,357 535,356 530,354 526,352 521,350 517,347 512,344 509,341 505,337 502,334 500,330 498,325 496,321 495,317 494,312 494,308 494,304 495,299 496,295 498,291 500,286 502,282 505,279 509,275 512,272 517,269 521,266 526,264 530,262 535,260 541,259 546,258 552,257 557,257 562,257 568,258 573,259 579,260 584,262 588,264 593,266 597,269 602,272 605,275 609,279 612,282 614,286 616,291 618,295 619,299 620,304Z" fill="#f6ec00"/>
<path d="M616,308 616,312 616,316 615,320 613,324 611,328 609,332 606,336 603,339 599,342 596,345 592,347 587,350 583,352 578,353 573,354 568,355 563,356 558,356 553,356 548,355 543,354 538,353 533,352 529,350 524,347 520,345 517,342 513,339 510,336 507,332 505,328 503,324 501,320 500,316 500,312 500,308 500,304 500,300 501,296 503,292 505,288 507,284 510,280 513,277 517,274 520,271 524,269 529,266 533,264 538,263 543,262 548,261 553,260 558,260 563,260 568,261 573,262 578,263 583,264 587,266 592,269 596,271 599,274 603,277 606,280 609,284 611,288 613,292 615,296 616,300 616,304Z" fill="#f7dd00"/>
<path d="M613,308 613,312 612,316 611,320 610,323 608,327 606,330 603,334 600,337 597,340 594,342 590,345 586,347 582,349 577,350 573,351 568,352 564,353 559,353 554,353 550,352 545,351 541,350 536,349 532,347 528,345 524,342 521,340 518,337 515,334 512,330 510,327 508,323 507,320 506,316 505,312 505,308 505,304 506,300 507,296 508,293 510,289 512,286 515,282 518,279 521,276 524,274 528,271 532,269 536,267 541,266 545,265 550,264 554,263 559,263 564,263 568,264 573,265 577,266 582,267 586,269 590,271 594,274 597,276 600,279 603,282 606,286 608,289 610,293 611,296 612,300 613,304Z" fill="#f7cf00"/>
<path d="M610,308 609,312 609,315 608,319 607,322 605,326 603,329 601,332 598,335 595,338 592,340 588,342 585,344 581,346 577,347 573,349 569,349 564,350 560,350 556,350 551,349 547,349 543,347 539,346 535,344 532,342 528,340 525,338 522,335 519,332 517,329 515,326 513,322 512,319 511,315 511,312 510,308 511,304 511,301 512,297 513,294 515,290 517,287 519,284 522,281 525,278 528,276 532,274 535,272 539,270 543,269 547,267 551,267 556,266 560,266 564,266 569,267 573,267 577,269 581,270 585,272 588,274 592,276 595,278 598,281 601,284 603,287 605,290 607,294 608,297 609,301 609,304Z" fill="#f8c000"/>
<path d="M607,309 607,312 606,316 605,319 604,322 603,325 601,328 599,331 596,334 593,336 590,339 587,341 584,343 580,344 576,345 572,346 568,347 564,348 560,348 556,348 552,347 548,346 544,345 540,344 536,343 533,341 530,339 527,336 524,334 521,331 519,328 517,325 516,322 515,319 514,316 513,312 513,309 513,305 514,302 515,299 516,295 517,292 519,289 521,286 524,284 527,281 530,279 533,277 536,275 540,273 544,272 548,271 552,270 556,270 560,270 564,270 568,270 572,271 576,272 580,273 584,275 587,277 590,279 593,281 596,284 599,286 601,289 603,292 604,295 605,299 606,302 607,305Z" fill="#f69808"/>
<path d="M604,310 604,313 604,316 603,319 602,322 600,325 599,328 596,330 594,333 591,335 589,337 586,339 582,341 579,342 575,343 572,344 568,345 564,345 560,346 556,345 552,345 548,344 545,343 541,342 538,341 534,339 531,337 529,335 526,333 524,330 521,328 520,325 518,322 517,319 516,316 516,313 516,310 516,306 516,303 517,300 518,297 520,294 521,292 524,289 526,286 529,284 531,282 534,280 538,278 541,277 545,276 548,275 552,274 556,274 560,274 564,274 568,274 572,275 575,276 579,277 582,278 586,280 589,282 591,284 594,286 596,289 599,292 600,294 602,297 603,300 604,303 604,306Z" fill="#f47010"/>
<path d="M601,311 601,314 600,316 600,319 599,322 597,324 596,327 594,329 591,331 589,333 586,335 584,337 581,338 577,340 574,341 571,342 567,342 564,343 560,343 557,343 553,342 550,342 546,341 543,340 540,338 537,337 534,335 531,333 529,331 527,329 525,327 523,324 522,322 521,319 520,316 520,314 520,311 520,308 520,305 521,302 522,300 523,297 525,295 527,292 529,290 531,288 534,286 537,285 540,283 543,282 546,281 550,280 553,279 557,279 560,279 564,279 567,279 571,280 574,281 577,282 581,283 584,285 586,286 589,288 591,290 594,292 596,295 597,297 599,300 600,302 600,305 601,308Z" fill="#e84d16"/>
<path d="M598,312 597,314 597,317 596,319 595,322 594,324 593,326 591,328 589,330 587,332 584,333 582,335 579,336 576,337 573,338 570,339 567,340 564,340 560,340 557,340 554,340 551,339 548,338 545,337 542,336 539,335 537,333 534,332 532,330 530,328 528,326 527,324 526,322 525,319 524,317 524,314 524,312 524,310 524,307 525,305 526,302 527,300 528,298 530,296 532,294 534,292 537,291 539,289 542,288 545,287 548,286 551,285 554,284 557,284 560,284 564,284 567,284 570,285 573,286 576,287 579,288 582,289 584,291 587,292 589,294 591,296 593,298 594,300 595,302 596,305 597,307 597,310Z" fill="#dc2a1c"/>
<path d="M594,312 594,315 594,317 593,319 592,321 591,323 590,325 588,326 586,328 584,330 582,331 580,332 578,334 575,335 573,335 570,336 567,336 564,337 561,337 558,337 556,336 553,336 550,335 548,335 545,334 543,332 540,331 538,330 536,328 535,326 533,325 532,323 531,321 530,319 529,317 529,315 529,312 529,310 529,308 530,306 531,304 532,302 533,300 535,299 536,297 538,295 540,294 543,293 545,291 548,290 550,290 553,289 556,289 558,288 561,288 564,288 567,289 570,289 573,290 575,290 578,291 580,293 582,294 584,295 586,297 588,299 590,300 591,302 592,304 593,306 594,308 594,310Z" fill="#d8291b"/>
<path d="M590,313 590,315 590,317 590,318 589,320 588,322 587,323 585,325 584,326 582,328 580,329 578,330 576,331 574,332 572,332 569,333 567,333 565,334 562,334 560,334 557,333 555,333 552,332 550,332 548,331 546,330 544,329 542,328 540,326 539,325 538,323 536,322 536,320 535,318 534,317 534,315 534,313 534,311 534,309 535,308 536,306 536,304 538,303 539,301 540,300 542,298 544,297 546,296 548,295 550,294 552,294 555,293 557,293 560,292 562,292 565,292 567,293 569,293 572,294 574,294 576,295 578,296 580,297 582,298 584,300 585,301 587,303 588,304 589,306 590,308 590,309 590,311Z" fill="#d42919"/>
<path d="M587,314 587,315 587,316 586,318 586,319 585,321 584,322 583,323 581,324 580,326 578,327 577,327 575,328 573,329 571,329 569,330 567,330 565,330 563,330 561,330 559,330 557,330 555,329 553,329 551,328 549,327 548,327 546,326 545,324 543,323 542,322 541,321 540,319 540,318 539,316 539,315 539,314 539,312 539,311 540,309 540,308 541,306 542,305 543,304 545,303 546,301 548,300 549,300 551,299 553,298 555,298 557,297 559,297 561,297 563,296 565,297 567,297 569,297 571,298 573,298 575,299 577,300 578,300 580,301 581,303 583,304 584,305 585,306 586,308 586,309 587,311 587,312Z" fill="#d02818"/>
<path d="M584,314 584,315 584,316 583,317 583,319 582,320 581,321 580,322 579,323 578,324 577,325 575,326 574,326 572,327 571,327 569,328 567,328 565,328 563,328 562,328 560,328 558,328 556,327 555,327 553,326 552,326 550,325 549,324 548,323 547,322 546,321 545,320 544,319 544,317 543,316 543,315 543,314 543,313 543,311 544,310 544,309 545,308 546,307 547,306 548,305 549,304 550,303 552,302 553,301 555,301 556,300 558,300 560,300 562,299 563,299 565,299 567,300 569,300 571,300 572,301 574,301 575,302 577,303 578,304 579,305 580,306 581,307 582,308 583,309 583,310 584,311 584,313Z" fill="#c02417"/>
<path d="M581,314 581,315 581,316 581,317 580,318 580,319 579,320 578,321 577,322 576,322 575,323 574,324 573,324 571,325 570,325 568,325 567,326 565,326 564,326 562,326 561,326 559,325 558,325 557,325 555,324 554,324 553,323 552,322 551,322 550,321 549,320 548,319 548,318 547,317 547,316 547,315 547,314 547,313 547,312 547,311 548,310 548,309 549,308 550,307 551,307 552,306 553,305 554,304 555,304 557,303 558,303 559,303 561,303 562,302 564,302 565,302 567,303 568,303 570,303 571,303 573,304 574,304 575,305 576,306 577,307 578,307 579,308 580,309 580,310 581,311 581,312 581,313Z" fill="#b02015"/>
<path d="M578,314 578,315 578,316 578,317 578,317 577,318 577,319 576,319 575,320 574,321 573,321 572,322 571,322 570,322 569,323 568,323 567,323 566,323 564,323 563,323 562,323 561,323 560,323 558,322 557,322 556,322 555,321 555,321 554,320 553,319 552,319 552,318 551,317 551,317 551,316 550,315 550,314 550,314 551,313 551,312 551,311 552,310 552,310 553,309 554,309 555,308 555,307 556,307 557,307 558,306 560,306 561,306 562,305 563,305 564,305 566,305 567,305 568,306 569,306 570,306 571,307 572,307 573,307 574,308 575,309 576,309 577,310 577,310 578,311 578,312 578,313 578,314Z" fill="#a01c14"/>
<path d="M575,315 575,315 575,316 574,316 574,317 574,317 573,318 573,318 572,319 572,319 571,320 570,320 570,320 569,321 568,321 567,321 566,321 566,321 565,321 564,321 563,321 562,321 561,321 560,321 560,320 559,320 558,320 558,319 557,319 557,318 556,318 556,317 555,317 555,316 555,316 555,315 555,315 555,314 555,314 555,313 555,312 556,312 556,311 557,311 557,310 558,310 558,310 559,309 560,309 560,309 561,309 562,308 563,308 564,308 565,308 566,308 566,308 567,308 568,309 569,309 570,309 570,309 571,310 572,310 572,310 573,311 573,311 574,312 574,312 574,313 575,314 575,314Z" fill="#981a12"/>
<path d="M571,315 571,315 571,316 571,316 571,316 570,317 570,317 570,317 570,318 569,318 569,318 568,318 568,318 568,319 567,319 567,319 566,319 566,319 565,319 564,319 564,319 563,319 563,319 562,319 562,318 562,318 561,318 561,318 560,318 560,317 560,317 560,317 559,316 559,316 559,316 559,315 559,315 559,315 559,314 559,314 559,314 560,313 560,313 560,313 560,312 561,312 561,312 562,312 562,312 562,311 563,311 563,311 564,311 564,311 565,311 566,311 566,311 567,311 567,311 568,311 568,312 568,312 569,312 569,312 570,312 570,313 570,313 570,313 571,314 571,314 571,314 571,315Z" fill="#901810"/>
</g></g>
<text x="755" y="593" font-family="Liberation Sans, sans-serif" font-weight="bold" font-size="20" fill="#2e2c86" opacity="0.8">2871</text>
<circle cx="260" cy="124" r="7.8" fill="#98e0e8"/>
<circle cx="332" cy="180" r="7.8" fill="#7cc808"/>
<circle cx="404" cy="236" r="7.8" fill="#e02a1e"/>
<circle cx="476" cy="292" r="7.8" fill="#050505"/>
<circle cx="563" cy="361" r="7.8" fill="#3d4ab0"/>
<circle cx="649" cy="429" r="7.8" fill="#f4e800"/>
<circle cx="735" cy="497" r="7.8" fill="#d048b0"/>
<path d="M214.9,19v20.5 M214.9,667v-20.5 M133,88.3h21.5 M953,88.3h-21.5 M378.3,19v20.5 M378.3,667v-20.5 M133,216.9h21.5 M953,216.9h-21.5 M541.7,19v20.5 M541.7,667v-20.5 M133,345.5h21.5 M953,345.5h-21.5 M705.1,19v20.5 M705.1,667v-20.5 M133,474.1h21.5 M953,474.1h-21.5 M868.5,19v20.5 M868.5,667v-20.5 M133,602.7h21.5 M953,602.7h-21.5" stroke="#fff" stroke-width="2.3" fill="none"/>
<text x="143" y="52.5" font-family="Liberation Serif, serif" font-weight="bold" font-size="36" fill="#fff">(a)</text>
</g>
<rect x="133" y="19.3" width="819.5" height="647.5" fill="none" stroke="#000" stroke-width="2.4"/>
<g font-family="Liberation Serif, serif" font-size="33" fill="#000">
<text x="214.2" y="707" text-anchor="middle">100</text>
<text x="371.1" y="707" text-anchor="middle">300</text>
<text x="540.8" y="707" text-anchor="middle">500</text>
<text x="708.6" y="707" text-anchor="middle">700</text>
<text x="868" y="707" text-anchor="middle">900</text>
<text x="115" y="93.9" text-anchor="end">100</text>
<text x="115" y="226.1" text-anchor="end">300</text>
<text x="115" y="357.9" text-anchor="end">500</text>
<text x="115" y="486.2" text-anchor="end">700</text>
<text x="115" y="615.5" text-anchor="end">900</text>
<text x="542" y="763" text-anchor="middle">Pixels</text>
<text transform="translate(28.4,343.5) rotate(-90)" text-anchor="middle">Pixels</text>
<text x="12" y="802" font-size="25.6">E29096J1</text>
</g>
</g>
<g id="pb">
<defs><clipPath id="cb"><rect x="1131" y="19.3" width="835" height="660"/></clipPath></defs>
<g clip-path="url(#cb)" fill="none" stroke-linecap="butt" stroke-linejoin="round">
<path d="M1216.4,21.4 L1218.3,35.4 L1220.2,49.0 L1222.0,62.3 L1223.9,75.1 L1225.8,87.7 L1227.7,99.9 L1229.6,111.8 L1231.5,123.3 L1233.3,134.6 L1235.2,145.6 L1237.1,156.2 L1239.0,166.6 L1240.9,176.7 L1242.8,186.6 L1244.6,196.2 L1246.5,205.5 L1248.4,214.7 L1250.3,223.5 L1252.2,232.2 L1254.1,240.6 L1255.9,248.8 L1257.8,256.8 L1259.7,264.6 L1261.6,272.2 L1263.5,279.6 L1265.4,286.9 L1267.2,293.9 L1269.1,300.8 L1271.0,307.5 L1272.9,314.0 L1274.8,320.4 L1276.7,326.6 L1278.5,332.7 L1280.4,338.6 L1282.3,344.4 L1284.2,350.1 L1286.1,355.6 L1288.0,361.0 L1289.8,366.3 L1291.7,371.4 L1293.6,376.4 L1295.5,381.3 L1297.4,386.1 L1299.3,390.8 L1301.1,395.4 L1303.0,399.9 L1304.9,404.3 L1306.8,408.6 L1308.7,412.8 L1310.6,416.9 L1312.4,420.9 L1314.3,424.8 L1316.2,428.6 L1318.1,432.4 L1320.0,436.1 L1321.9,439.7 L1323.7,443.2 L1325.6,446.7 L1327.5,450.1 L1329.4,453.4 L1331.3,456.6 L1333.2,459.8 L1335.0,463.0 L1336.9,466.0 L1338.8,469.0 L1340.7,472.0 L1342.6,474.9 L1344.5,477.7 L1346.3,480.5 L1348.2,483.2 L1350.1,485.9 L1352.0,488.6 L1353.9,491.1 L1355.8,493.7 L1357.6,496.2 L1359.5,498.6 L1361.4,501.1 L1363.3,503.4 L1365.2,505.8 L1367.1,508.1 L1368.9,510.3 L1370.8,512.5 L1372.7,514.7 L1374.6,516.9 L1376.5,519.0 L1378.4,521.1 L1380.2,523.1 L1382.1,525.1 L1384.0,527.1 L1385.9,529.1 L1387.8,531.0 L1389.7,532.9 L1391.5,534.8 L1393.4,536.6 L1395.3,538.5 L1397.2,540.3 L1399.1,542.0 L1401.0,543.8 L1402.8,545.5 L1404.7,547.2 L1406.6,548.9 L1408.5,550.6 L1410.4,552.2 L1412.3,553.8 L1414.1,555.4 L1416.0,557.0 L1417.9,558.6 L1419.8,560.1 L1421.7,561.6 L1423.6,563.1 L1425.4,564.6 L1427.3,566.1 L1429.2,567.5 L1431.1,569.0 L1433.0,570.4 L1434.9,571.8 L1436.7,573.2 L1438.6,574.6 L1440.5,575.9 L1442.4,577.3 L1444.3,578.6 L1446.2,580.0 L1448.0,581.3 L1449.9,582.6 L1451.8,583.9 L1453.7,585.1 L1455.6,586.4 L1457.5,587.6 L1459.3,588.9 L1461.2,590.1 L1463.1,591.3 L1465.0,592.5 L1466.9,593.7 L1468.8,594.9 L1470.7,596.1 L1472.5,597.3 L1474.4,598.4 L1476.3,599.6 L1478.2,600.7 L1480.1,601.8 L1482.0,603.0 L1483.8,604.1 L1485.7,605.2 L1487.6,606.3 L1489.5,607.4 L1491.4,608.4 L1493.3,609.5 L1495.1,610.6 L1497.0,611.6 L1498.9,612.7 L1500.8,613.7 L1502.7,614.8 L1504.6,615.8 L1506.4,616.8 L1508.3,617.8 L1510.2,618.8 L1512.1,619.8 L1514.0,620.8 L1515.9,621.8 L1517.7,622.8 L1519.6,623.8 L1521.5,624.8 L1523.4,625.7 L1525.3,626.7 L1527.2,627.6 L1529.0,628.6 L1530.9,629.5 L1532.8,630.5 L1534.7,631.4 L1536.6,632.3 L1538.5,633.3 L1540.3,634.2 L1542.2,635.1 L1544.1,636.0 L1546.0,636.9 L1547.9,637.8 L1549.8,638.7 L1551.6,639.6 L1553.5,640.5 L1555.4,641.3 L1557.3,642.2 L1559.2,643.1 L1561.1,643.9 L1562.9,644.8 L1564.8,645.7 L1566.7,646.5 L1568.6,647.4 L1570.5,648.2 L1572.4,649.0 L1574.2,649.9 L1576.1,650.7 L1578.0,651.5 L1579.9,652.4 L1581.8,653.2 L1583.7,654.0 L1585.5,654.8 L1587.4,655.6 L1589.3,656.4 L1591.2,657.2 L1593.1,658.0 L1595.0,658.8 L1596.8,659.6 L1598.7,660.4 L1600.6,661.2 L1602.5,662.0 L1604.4,662.7 L1606.3,663.5 L1608.1,664.3 L1610.0,665.1 L1611.9,665.8 L1613.8,666.6 L1615.7,667.3 L1617.6,668.1 L1619.4,668.8 L1621.3,669.6 L1623.2,670.3 L1625.1,671.1 L1627.0,671.8 L1628.9,672.6 L1630.7,673.3 L1632.6,674.0 L1634.5,674.7 L1636.4,675.5 L1638.3,676.2 L1640.2,676.9 L1642.0,677.6 L1643.9,678.3 L1645.8,679.0 L1647.7,679.2" stroke="#95dbe8" stroke-width="4.2"/>
<path d="M1242.3,52.1 L1244.1,63.2 L1246.0,74.0 L1247.8,84.6 L1249.6,95.0 L1251.4,105.1 L1253.2,115.0 L1255.0,124.7 L1256.8,134.2 L1258.7,143.5 L1260.5,152.5 L1262.3,161.4 L1264.1,170.1 L1265.9,178.5 L1267.7,186.8 L1269.5,195.0 L1271.4,202.9 L1273.2,210.7 L1275.0,218.3 L1276.8,225.7 L1278.6,233.0 L1280.4,240.1 L1282.2,247.1 L1284.0,253.9 L1285.9,260.6 L1287.7,267.1 L1289.5,273.5 L1291.3,279.8 L1293.1,285.9 L1294.9,291.9 L1296.7,297.8 L1298.6,303.6 L1300.4,309.2 L1302.2,314.8 L1304.0,320.2 L1305.8,325.5 L1307.6,330.7 L1309.4,335.8 L1311.3,340.8 L1313.1,345.7 L1314.9,350.5 L1316.7,355.3 L1318.5,359.9 L1320.3,364.4 L1322.1,368.9 L1323.9,373.2 L1325.8,377.5 L1327.6,381.7 L1329.4,385.8 L1331.2,389.9 L1333.0,393.8 L1334.8,397.7 L1336.6,401.5 L1338.5,405.3 L1340.3,409.0 L1342.1,412.6 L1343.9,416.1 L1345.7,419.6 L1347.5,423.1 L1349.3,426.4 L1351.2,429.7 L1353.0,433.0 L1354.8,436.2 L1356.6,439.3 L1358.4,442.4 L1360.2,445.4 L1362.0,448.4 L1363.9,451.4 L1365.7,454.2 L1367.5,457.1 L1369.3,459.9 L1371.1,462.6 L1372.9,465.3 L1374.7,468.0 L1376.5,470.6 L1378.4,473.2 L1380.2,475.7 L1382.0,478.2 L1383.8,480.7 L1385.6,483.1 L1387.4,485.5 L1389.2,487.8 L1391.1,490.1 L1392.9,492.4 L1394.7,494.7 L1396.5,496.9 L1398.3,499.1 L1400.1,501.2 L1401.9,503.3 L1403.8,505.4 L1405.6,507.5 L1407.4,509.5 L1409.2,511.5 L1411.0,513.5 L1412.8,515.5 L1414.6,517.4 L1416.4,519.3 L1418.3,521.2 L1420.1,523.0 L1421.9,524.9 L1423.7,526.7 L1425.5,528.5 L1427.3,530.2 L1429.1,532.0 L1431.0,533.7 L1432.8,535.4 L1434.6,537.1 L1436.4,538.7 L1438.2,540.4 L1440.0,542.0 L1441.8,543.6 L1443.7,545.2 L1445.5,546.8 L1447.3,548.3 L1449.1,549.8 L1450.9,551.4 L1452.7,552.9 L1454.5,554.4 L1456.4,555.8 L1458.2,557.3 L1460.0,558.7 L1461.8,560.1 L1463.6,561.6 L1465.4,563.0 L1467.2,564.3 L1469.0,565.7 L1470.9,567.1 L1472.7,568.4 L1474.5,569.7 L1476.3,571.1 L1478.1,572.4 L1479.9,573.7 L1481.7,574.9 L1483.6,576.2 L1485.4,577.5 L1487.2,578.7 L1489.0,580.0 L1490.8,581.2 L1492.6,582.4 L1494.4,583.6 L1496.3,584.8 L1498.1,586.0 L1499.9,587.2 L1501.7,588.3 L1503.5,589.5 L1505.3,590.7 L1507.1,591.8 L1508.9,592.9 L1510.8,594.0 L1512.6,595.2 L1514.4,596.3 L1516.2,597.4 L1518.0,598.5 L1519.8,599.5 L1521.6,600.6 L1523.5,601.7 L1525.3,602.7 L1527.1,603.8 L1528.9,604.8 L1530.7,605.9 L1532.5,606.9 L1534.3,607.9 L1536.2,608.9 L1538.0,610.0 L1539.8,611.0 L1541.6,612.0 L1543.4,613.0 L1545.2,613.9 L1547.0,614.9 L1548.8,615.9 L1550.7,616.9 L1552.5,617.8 L1554.3,618.8 L1556.1,619.7 L1557.9,620.7 L1559.7,621.6 L1561.5,622.5 L1563.4,623.5 L1565.2,624.4 L1567.0,625.3 L1568.8,626.2 L1570.6,627.1 L1572.4,628.0 L1574.2,628.9 L1576.1,629.8 L1577.9,630.7 L1579.7,631.6 L1581.5,632.5 L1583.3,633.3 L1585.1,634.2 L1586.9,635.1 L1588.8,635.9 L1590.6,636.8 L1592.4,637.6 L1594.2,638.5 L1596.0,639.3 L1597.8,640.1 L1599.6,641.0 L1601.4,641.8 L1603.3,642.6 L1605.1,643.5 L1606.9,644.3 L1608.7,645.1 L1610.5,645.9 L1612.3,646.7 L1614.1,647.5 L1616.0,648.3 L1617.8,649.1 L1619.6,649.9 L1621.4,650.7 L1623.2,651.5 L1625.0,652.2 L1626.8,653.0 L1628.7,653.8 L1630.5,654.6 L1632.3,655.3 L1634.1,656.1 L1635.9,656.8 L1637.7,657.6 L1639.5,658.4 L1641.3,659.1 L1643.2,659.8 L1645.0,660.6 L1646.8,661.3 L1648.6,662.1 L1650.4,662.8 L1652.2,663.5 L1654.0,664.3 L1655.9,665.0 L1657.7,665.7 L1659.5,666.4 L1661.3,667.1 L1663.1,667.9 L1664.9,668.6 L1666.7,669.3 L1668.6,670.0 L1670.4,670.7 L1672.2,671.4 L1674.0,672.1 L1675.8,672.8 L1677.6,673.5 L1679.4,674.1 L1681.2,674.8 L1683.1,675.5 L1684.9,676.2 L1686.7,676.9 L1688.5,677.5 L1690.3,678.2 L1692.1,678.9 L1693.9,679.2" stroke="#c24fb4" stroke-width="4.2"/>
<path d="M1270.2,72.9 L1271.9,81.8 L1273.7,90.6 L1275.4,99.2 L1277.1,107.6 L1278.9,115.9 L1280.6,124.0 L1282.4,131.9 L1284.1,139.7 L1285.9,147.4 L1287.6,154.9 L1289.4,162.3 L1291.1,169.5 L1292.8,176.6 L1294.6,183.6 L1296.3,190.4 L1298.1,197.1 L1299.8,203.7 L1301.6,210.2 L1303.3,216.5 L1305.0,222.8 L1306.8,228.9 L1308.5,234.9 L1310.3,240.8 L1312.0,246.6 L1313.8,252.3 L1315.5,257.9 L1317.3,263.4 L1319.0,268.8 L1320.7,274.1 L1322.5,279.3 L1324.2,284.4 L1326.0,289.5 L1327.7,294.4 L1329.5,299.3 L1331.2,304.0 L1332.9,308.7 L1334.7,313.3 L1336.4,317.9 L1338.2,322.3 L1339.9,326.7 L1341.7,331.0 L1343.4,335.3 L1345.2,339.4 L1346.9,343.5 L1348.6,347.5 L1350.4,351.5 L1352.1,355.4 L1353.9,359.2 L1355.6,363.0 L1357.4,366.7 L1359.1,370.4 L1360.9,374.0 L1362.6,377.5 L1364.3,381.0 L1366.1,384.4 L1367.8,387.8 L1369.6,391.1 L1371.3,394.4 L1373.1,397.6 L1374.8,400.8 L1376.5,403.9 L1378.3,407.0 L1380.0,410.0 L1381.8,413.0 L1383.5,416.0 L1385.3,418.9 L1387.0,421.7 L1388.8,424.6 L1390.5,427.3 L1392.2,430.1 L1394.0,432.8 L1395.7,435.4 L1397.5,438.1 L1399.2,440.6 L1401.0,443.2 L1402.7,445.7 L1404.5,448.2 L1406.2,450.6 L1407.9,453.0 L1409.7,455.4 L1411.4,457.8 L1413.2,460.1 L1414.9,462.4 L1416.7,464.6 L1418.4,466.9 L1420.1,469.1 L1421.9,471.2 L1423.6,473.4 L1425.4,475.5 L1427.1,477.6 L1428.9,479.7 L1430.6,481.7 L1432.4,483.7 L1434.1,485.7 L1435.8,487.7 L1437.6,489.6 L1439.3,491.6 L1441.1,493.5 L1442.8,495.3 L1444.6,497.2 L1446.3,499.0 L1448.0,500.8 L1449.8,502.6 L1451.5,504.4 L1453.3,506.2 L1455.0,507.9 L1456.8,509.6 L1458.5,511.3 L1460.3,513.0 L1462.0,514.6 L1463.7,516.3 L1465.5,517.9 L1467.2,519.5 L1469.0,521.1 L1470.7,522.7 L1472.5,524.2 L1474.2,525.8 L1476.0,527.3 L1477.7,528.8 L1479.4,530.3 L1481.2,531.8 L1482.9,533.3 L1484.7,534.7 L1486.4,536.2 L1488.2,537.6 L1489.9,539.0 L1491.6,540.4 L1493.4,541.8 L1495.1,543.2 L1496.9,544.6 L1498.6,545.9 L1500.4,547.3 L1502.1,548.6 L1503.9,549.9 L1505.6,551.2 L1507.3,552.5 L1509.1,553.8 L1510.8,555.1 L1512.6,556.4 L1514.3,557.6 L1516.1,558.9 L1517.8,560.1 L1519.6,561.3 L1521.3,562.5 L1523.0,563.7 L1524.8,564.9 L1526.5,566.1 L1528.3,567.3 L1530.0,568.5 L1531.8,569.6 L1533.5,570.8 L1535.2,571.9 L1537.0,573.1 L1538.7,574.2 L1540.5,575.3 L1542.2,576.4 L1544.0,577.5 L1545.7,578.6 L1547.5,579.7 L1549.2,580.8 L1550.9,581.9 L1552.7,582.9 L1554.4,584.0 L1556.2,585.0 L1557.9,586.1 L1559.7,587.1 L1561.4,588.1 L1563.1,589.2 L1564.9,590.2 L1566.6,591.2 L1568.4,592.2 L1570.1,593.2 L1571.9,594.2 L1573.6,595.2 L1575.4,596.2 L1577.1,597.1 L1578.8,598.1 L1580.6,599.1 L1582.3,600.0 L1584.1,601.0 L1585.8,601.9 L1587.6,602.9 L1589.3,603.8 L1591.1,604.8 L1592.8,605.7 L1594.5,606.6 L1596.3,607.5 L1598.0,608.4 L1599.8,609.3 L1601.5,610.2 L1603.3,611.1 L1605.0,612.0 L1606.7,612.9 L1608.5,613.8 L1610.2,614.7 L1612.0,615.5 L1613.7,616.4 L1615.5,617.3 L1617.2,618.1 L1619.0,619.0 L1620.7,619.9 L1622.4,620.7 L1624.2,621.5 L1625.9,622.4 L1627.7,623.2 L1629.4,624.1 L1631.2,624.9 L1632.9,625.7 L1634.7,626.5 L1636.4,627.3 L1638.1,628.2 L1639.9,629.0 L1641.6,629.8 L1643.4,630.6 L1645.1,631.4 L1646.9,632.2 L1648.6,632.9 L1650.3,633.7 L1652.1,634.5 L1653.8,635.3 L1655.6,636.1 L1657.3,636.8 L1659.1,637.6 L1660.8,638.4 L1662.6,639.1 L1664.3,639.9 L1666.0,640.7 L1667.8,641.4 L1669.5,642.2 L1671.3,642.9 L1673.0,643.7 L1674.8,644.4 L1676.5,645.1 L1678.2,645.9 L1680.0,646.6 L1681.7,647.3 L1683.5,648.1 L1685.2,648.8 L1687.0,649.5 L1688.7,650.2 L1690.5,650.9 L1692.2,651.7 L1693.9,652.4 L1695.7,653.1 L1697.4,653.8 L1699.2,654.5 L1700.9,655.2 L1702.7,655.9 L1704.4,656.6 L1706.2,657.3 L1707.9,657.9 L1709.6,658.6 L1711.4,659.3 L1713.1,660.0 L1714.9,660.7 L1716.6,661.3 L1718.4,662.0 L1720.1,662.7 L1721.8,663.3 L1723.6,664.0 L1725.3,664.7 L1727.1,665.3 L1728.8,666.0 L1730.6,666.6 L1732.3,667.3 L1734.1,668.0 L1735.8,668.6 L1737.5,669.2 L1739.3,669.9 L1741.0,670.5 L1742.8,671.2 L1744.5,671.8 L1746.3,672.4 L1748.0,673.1 L1749.8,673.7 L1751.5,674.3 L1753.2,675.0 L1755.0,675.6 L1756.7,676.2 L1758.5,676.8 L1760.2,677.4 L1762.0,678.1 L1763.7,678.7 L1765.4,679.2" stroke="#70c300" stroke-width="4.2"/>
<path d="M1353.7,25.8 L1355.2,31.4 L1356.7,37.0 L1358.3,42.5 L1359.8,48.0 L1361.3,53.4 L1362.9,58.8 L1364.4,64.1 L1365.9,69.3 L1367.5,74.5 L1369.0,79.7 L1370.5,84.7 L1372.1,89.8 L1373.6,94.7 L1375.2,99.7 L1376.7,104.6 L1378.2,109.4 L1379.8,114.2 L1381.3,118.9 L1382.8,123.6 L1384.4,128.2 L1385.9,132.8 L1387.4,137.3 L1389.0,141.8 L1390.5,146.2 L1392.0,150.6 L1393.6,155.0 L1395.1,159.3 L1396.6,163.6 L1398.2,167.8 L1399.7,172.0 L1401.2,176.1 L1402.8,180.2 L1404.3,184.3 L1405.8,188.3 L1407.4,192.3 L1408.9,196.2 L1410.4,200.1 L1412.0,203.9 L1413.5,207.8 L1415.1,211.5 L1416.6,215.3 L1418.1,219.0 L1419.7,222.7 L1421.2,226.3 L1422.7,229.9 L1424.3,233.5 L1425.8,237.0 L1427.3,240.5 L1428.9,243.9 L1430.4,247.4 L1431.9,250.8 L1433.5,254.1 L1435.0,257.4 L1436.5,260.7 L1438.1,264.0 L1439.6,267.2 L1441.1,270.4 L1442.7,273.6 L1444.2,276.7 L1445.7,279.8 L1447.3,282.9 L1448.8,286.0 L1450.4,289.0 L1451.9,292.0 L1453.4,294.9 L1455.0,297.9 L1456.5,300.8 L1458.0,303.7 L1459.6,306.5 L1461.1,309.3 L1462.6,312.2 L1464.2,314.9 L1465.7,317.7 L1467.2,320.4 L1468.8,323.1 L1470.3,325.8 L1471.8,328.4 L1473.4,331.0 L1474.9,333.6 L1476.4,336.2 L1478.0,338.8 L1479.5,341.3 L1481.0,343.8 L1482.6,346.3 L1484.1,348.8 L1485.6,351.2 L1487.2,353.6 L1488.7,356.0 L1490.3,358.4 L1491.8,360.7 L1493.3,363.1 L1494.9,365.4 L1496.4,367.7 L1497.9,369.9 L1499.5,372.2 L1501.0,374.4 L1502.5,376.6 L1504.1,378.8 L1505.6,381.0 L1507.1,383.2 L1508.7,385.3 L1510.2,387.4 L1511.7,389.5 L1513.3,391.6 L1514.8,393.7 L1516.3,395.7 L1517.9,397.7 L1519.4,399.7 L1520.9,401.7 L1522.5,403.7 L1524.0,405.7 L1525.5,407.6 L1527.1,409.5 L1528.6,411.5 L1530.2,413.4 L1531.7,415.2 L1533.2,417.1 L1534.8,418.9 L1536.3,420.8 L1537.8,422.6 L1539.4,424.4 L1540.9,426.2 L1542.4,428.0 L1544.0,429.7 L1545.5,431.5 L1547.0,433.2 L1548.6,434.9 L1550.1,436.6 L1551.6,438.3 L1553.2,440.0 L1554.7,441.7 L1556.2,443.3 L1557.8,444.9 L1559.3,446.6 L1560.8,448.2 L1562.4,449.8 L1563.9,451.4 L1565.5,452.9 L1567.0,454.5 L1568.5,456.1 L1570.1,457.6 L1571.6,459.1 L1573.1,460.6 L1574.7,462.1 L1576.2,463.6 L1577.7,465.1 L1579.3,466.6 L1580.8,468.1 L1582.3,469.5 L1583.9,470.9 L1585.4,472.4 L1586.9,473.8 L1588.5,475.2 L1590.0,476.6 L1591.5,478.0 L1593.1,479.3 L1594.6,480.7 L1596.1,482.1 L1597.7,483.4 L1599.2,484.7 L1600.7,486.1 L1602.3,487.4 L1603.8,488.7 L1605.4,490.0 L1606.9,491.3 L1608.4,492.6 L1610.0,493.8 L1611.5,495.1 L1613.0,496.4 L1614.6,497.6 L1616.1,498.8 L1617.6,500.1 L1619.2,501.3 L1620.7,502.5 L1622.2,503.7 L1623.8,504.9 L1625.3,506.1 L1626.8,507.3 L1628.4,508.4 L1629.9,509.6 L1631.4,510.8 L1633.0,511.9 L1634.5,513.0 L1636.0,514.2 L1637.6,515.3 L1639.1,516.4 L1640.6,517.5 L1642.2,518.6 L1643.7,519.7 L1645.3,520.8 L1646.8,521.9 L1648.3,523.0 L1649.9,524.1 L1651.4,525.1 L1652.9,526.2 L1654.5,527.2 L1656.0,528.3 L1657.5,529.3 L1659.1,530.3 L1660.6,531.4 L1662.1,532.4 L1663.7,533.4 L1665.2,534.4 L1666.7,535.4 L1668.3,536.4 L1669.8,537.4 L1671.3,538.3 L1672.9,539.3 L1674.4,540.3 L1675.9,541.3 L1677.5,542.2 L1679.0,543.2 L1680.6,544.1 L1682.1,545.1 L1683.6,546.0 L1685.2,546.9 L1686.7,547.8 L1688.2,548.8 L1689.8,549.7 L1691.3,550.6 L1692.8,551.5 L1694.4,552.4 L1695.9,553.3 L1697.4,554.2 L1699.0,555.1 L1700.5,555.9 L1702.0,556.8 L1703.6,557.7 L1705.1,558.6 L1706.6,559.4 L1708.2,560.3 L1709.7,561.1 L1711.2,562.0 L1712.8,562.8 L1714.3,563.7 L1715.8,564.5 L1717.4,565.3 L1718.9,566.1 L1720.5,567.0 L1722.0,567.8 L1723.5,568.6 L1725.1,569.4 L1726.6,570.2 L1728.1,571.0 L1729.7,571.8 L1731.2,572.6 L1732.7,573.4 L1734.3,574.2 L1735.8,575.0 L1737.3,575.7 L1738.9,576.5 L1740.4,577.3 L1741.9,578.0 L1743.5,578.8 L1745.0,579.6 L1746.5,580.3 L1748.1,581.1 L1749.6,581.8 L1751.1,582.5 L1752.7,583.3 L1754.2,584.0 L1755.8,584.8 L1757.3,585.5 L1758.8,586.2 L1760.4,586.9 L1761.9,587.7 L1763.4,588.4 L1765.0,589.1 L1766.5,589.8 L1768.0,590.5 L1769.6,591.2 L1771.1,591.9 L1772.6,592.6 L1774.2,593.3 L1775.7,594.0 L1777.2,594.7 L1778.8,595.4 L1780.3,596.0 L1781.8,596.7 L1783.4,597.4 L1784.9,598.1 L1786.4,598.7 L1788.0,599.4 L1789.5,600.1 L1791.0,600.7 L1792.6,601.4 L1794.1,602.0 L1795.7,602.7 L1797.2,603.3 L1798.7,604.0 L1800.3,604.6 L1801.8,605.3 L1803.3,605.9 L1804.9,606.6 L1806.4,607.2 L1807.9,607.8 L1809.5,608.5 L1811.0,609.1 L1812.5,609.7 L1814.1,610.3 L1815.6,610.9 L1817.1,611.6 L1818.7,612.2 L1820.2,612.8 L1821.7,613.4 L1823.3,614.0 L1824.8,614.6 L1826.3,615.2 L1827.9,615.8 L1829.4,616.4 L1830.9,617.0 L1832.5,617.6 L1834.0,618.2 L1835.6,618.8 L1837.1,619.4 L1838.6,620.0 L1840.2,620.5 L1841.7,621.1 L1843.2,621.7 L1844.8,622.3 L1846.3,622.8 L1847.8,623.4 L1849.4,624.0 L1850.9,624.6 L1852.4,625.1 L1854.0,625.7 L1855.5,626.2 L1857.0,626.8 L1858.6,627.4 L1860.1,627.9 L1861.6,628.5 L1863.2,629.0 L1864.7,629.6 L1866.2,630.1 L1867.8,630.7 L1869.3,631.2 L1870.9,631.8 L1872.4,632.3 L1873.9,632.8 L1875.5,633.4 L1877.0,633.9 L1878.5,634.4 L1880.1,635.0 L1881.6,635.5 L1883.1,636.0 L1884.7,636.6 L1886.2,637.1 L1887.7,637.6 L1889.3,638.1 L1890.8,638.6 L1892.3,639.2 L1893.9,639.7 L1895.4,640.2 L1896.9,640.7 L1898.5,641.2 L1900.0,641.7 L1901.5,642.2 L1903.1,642.7 L1904.6,643.2 L1906.1,643.7 L1907.7,644.2 L1909.2,644.7 L1910.8,645.2 L1912.3,645.7 L1913.8,646.2 L1915.4,646.7 L1916.9,647.2 L1918.4,647.7 L1920.0,648.2 L1921.5,648.7 L1923.0,649.2 L1924.6,649.7 L1926.1,650.1 L1927.6,650.6 L1929.2,651.1 L1930.7,651.6 L1932.2,652.1 L1933.8,652.5 L1935.3,653.0 L1936.8,653.5 L1938.4,654.0 L1939.9,654.4 L1941.4,654.9 L1943.0,655.4 L1944.5,655.8 L1946.0,656.3 L1947.6,656.8 L1949.1,657.2 L1950.7,657.7 L1952.2,658.1 L1953.7,658.6 L1955.3,659.1 L1956.8,659.5 L1958.3,660.0 L1959.9,660.4 L1961.4,660.9 L1962.9,661.3 L1964.5,661.8 L1966.0,662.2" stroke="#df2c1c" stroke-width="4.2"/>
<path d="M1381.5,81.2 L1383.0,85.6 L1384.4,90.1 L1385.9,94.5 L1387.4,98.8 L1388.8,103.2 L1390.3,107.4 L1391.8,111.7 L1393.2,115.9 L1394.7,120.1 L1396.1,124.2 L1397.6,128.3 L1399.1,132.4 L1400.5,136.4 L1402.0,140.4 L1403.5,144.4 L1404.9,148.3 L1406.4,152.2 L1407.9,156.0 L1409.3,159.9 L1410.8,163.7 L1412.3,167.4 L1413.7,171.2 L1415.2,174.8 L1416.7,178.5 L1418.1,182.1 L1419.6,185.7 L1421.1,189.3 L1422.5,192.9 L1424.0,196.4 L1425.4,199.8 L1426.9,203.3 L1428.4,206.7 L1429.8,210.1 L1431.3,213.5 L1432.8,216.8 L1434.2,220.1 L1435.7,223.4 L1437.2,226.6 L1438.6,229.9 L1440.1,233.1 L1441.6,236.2 L1443.0,239.4 L1444.5,242.5 L1446.0,245.6 L1447.4,248.7 L1448.9,251.7 L1450.4,254.7 L1451.8,257.7 L1453.3,260.7 L1454.7,263.6 L1456.2,266.5 L1457.7,269.4 L1459.1,272.3 L1460.6,275.1 L1462.1,277.9 L1463.5,280.7 L1465.0,283.5 L1466.5,286.3 L1467.9,289.0 L1469.4,291.7 L1470.9,294.4 L1472.3,297.1 L1473.8,299.7 L1475.3,302.3 L1476.7,304.9 L1478.2,307.5 L1479.6,310.1 L1481.1,312.6 L1482.6,315.1 L1484.0,317.6 L1485.5,320.1 L1487.0,322.5 L1488.4,325.0 L1489.9,327.4 L1491.4,329.8 L1492.8,332.2 L1494.3,334.5 L1495.8,336.9 L1497.2,339.2 L1498.7,341.5 L1500.2,343.8 L1501.6,346.1 L1503.1,348.3 L1504.6,350.6 L1506.0,352.8 L1507.5,355.0 L1508.9,357.2 L1510.4,359.3 L1511.9,361.5 L1513.3,363.6 L1514.8,365.7 L1516.3,367.8 L1517.7,369.9 L1519.2,372.0 L1520.7,374.0 L1522.1,376.1 L1523.6,378.1 L1525.1,380.1 L1526.5,382.1 L1528.0,384.1 L1529.5,386.0 L1530.9,388.0 L1532.4,389.9 L1533.9,391.8 L1535.3,393.7 L1536.8,395.6 L1538.2,397.5 L1539.7,399.4 L1541.2,401.2 L1542.6,403.1 L1544.1,404.9 L1545.6,406.7 L1547.0,408.5 L1548.5,410.3 L1550.0,412.0 L1551.4,413.8 L1552.9,415.5 L1554.4,417.2 L1555.8,419.0 L1557.3,420.7 L1558.8,422.4 L1560.2,424.0 L1561.7,425.7 L1563.1,427.4 L1564.6,429.0 L1566.1,430.6 L1567.5,432.3 L1569.0,433.9 L1570.5,435.5 L1571.9,437.1 L1573.4,438.6 L1574.9,440.2 L1576.3,441.7 L1577.8,443.3 L1579.3,444.8 L1580.7,446.3 L1582.2,447.9 L1583.7,449.4 L1585.1,450.8 L1586.6,452.3 L1588.1,453.8 L1589.5,455.2 L1591.0,456.7 L1592.4,458.1 L1593.9,459.6 L1595.4,461.0 L1596.8,462.4 L1598.3,463.8 L1599.8,465.2 L1601.2,466.6 L1602.7,467.9 L1604.2,469.3 L1605.6,470.7 L1607.1,472.0 L1608.6,473.3 L1610.0,474.7 L1611.5,476.0 L1613.0,477.3 L1614.4,478.6 L1615.9,479.9 L1617.4,481.2 L1618.8,482.5 L1620.3,483.7 L1621.7,485.0 L1623.2,486.2 L1624.7,487.5 L1626.1,488.7 L1627.6,489.9 L1629.1,491.2 L1630.5,492.4 L1632.0,493.6 L1633.5,494.8 L1634.9,496.0 L1636.4,497.2 L1637.9,498.3 L1639.3,499.5 L1640.8,500.7 L1642.3,501.8 L1643.7,503.0 L1645.2,504.1 L1646.6,505.2 L1648.1,506.3 L1649.6,507.5 L1651.0,508.6 L1652.5,509.7 L1654.0,510.8 L1655.4,511.9 L1656.9,513.0 L1658.4,514.0 L1659.8,515.1 L1661.3,516.2 L1662.8,517.2 L1664.2,518.3 L1665.7,519.3 L1667.2,520.4 L1668.6,521.4 L1670.1,522.4 L1671.6,523.5 L1673.0,524.5 L1674.5,525.5 L1675.9,526.5 L1677.4,527.5 L1678.9,528.5 L1680.3,529.5 L1681.8,530.4 L1683.3,531.4 L1684.7,532.4 L1686.2,533.4 L1687.7,534.3 L1689.1,535.3 L1690.6,536.2 L1692.1,537.2 L1693.5,538.1 L1695.0,539.0 L1696.5,540.0 L1697.9,540.9 L1699.4,541.8 L1700.9,542.7 L1702.3,543.6 L1703.8,544.5 L1705.2,545.4 L1706.7,546.3 L1708.2,547.2 L1709.6,548.1 L1711.1,549.0 L1712.6,549.8 L1714.0,550.7 L1715.5,551.6 L1717.0,552.4 L1718.4,553.3 L1719.9,554.1 L1721.4,555.0 L1722.8,555.8 L1724.3,556.7 L1725.8,557.5 L1727.2,558.3 L1728.7,559.1 L1730.1,560.0 L1731.6,560.8 L1733.1,561.6 L1734.5,562.4 L1736.0,563.2 L1737.5,564.0 L1738.9,564.8 L1740.4,565.6 L1741.9,566.4 L1743.3,567.2 L1744.8,567.9 L1746.3,568.7 L1747.7,569.5 L1749.2,570.3 L1750.7,571.0 L1752.1,571.8 L1753.6,572.5 L1755.1,573.3 L1756.5,574.0 L1758.0,574.8 L1759.4,575.5 L1760.9,576.3 L1762.4,577.0 L1763.8,577.7 L1765.3,578.5 L1766.8,579.2 L1768.2,579.9 L1769.7,580.6 L1771.2,581.4 L1772.6,582.1 L1774.1,582.8 L1775.6,583.5 L1777.0,584.2 L1778.5,584.9 L1780.0,585.6 L1781.4,586.3 L1782.9,587.0 L1784.4,587.6 L1785.8,588.3 L1787.3,589.0 L1788.7,589.7 L1790.2,590.4 L1791.7,591.0 L1793.1,591.7 L1794.6,592.4 L1796.1,593.0 L1797.5,593.7 L1799.0,594.3 L1800.5,595.0 L1801.9,595.6 L1803.4,596.3 L1804.9,596.9 L1806.3,597.6 L1807.8,598.2 L1809.3,598.9 L1810.7,599.5 L1812.2,600.1 L1813.6,600.8 L1815.1,601.4 L1816.6,602.0 L1818.0,602.6 L1819.5,603.3 L1821.0,603.9 L1822.4,604.5 L1823.9,605.1 L1825.4,605.7 L1826.8,606.3 L1828.3,606.9 L1829.8,607.5 L1831.2,608.1 L1832.7,608.7 L1834.2,609.3 L1835.6,609.9 L1837.1,610.5 L1838.6,611.1 L1840.0,611.7 L1841.5,612.2 L1842.9,612.8 L1844.4,613.4 L1845.9,614.0 L1847.3,614.5 L1848.8,615.1 L1850.3,615.7 L1851.7,616.3 L1853.2,616.8 L1854.7,617.4 L1856.1,617.9 L1857.6,618.5 L1859.1,619.1 L1860.5,619.6 L1862.0,620.2 L1863.5,620.7 L1864.9,621.3 L1866.4,621.8 L1867.9,622.4 L1869.3,622.9 L1870.8,623.4 L1872.2,624.0 L1873.7,624.5 L1875.2,625.0 L1876.6,625.6 L1878.1,626.1 L1879.6,626.6 L1881.0,627.2 L1882.5,627.7 L1884.0,628.2 L1885.4,628.7 L1886.9,629.2 L1888.4,629.8 L1889.8,630.3 L1891.3,630.8 L1892.8,631.3 L1894.2,631.8 L1895.7,632.3 L1897.1,632.8 L1898.6,633.3 L1900.1,633.8 L1901.5,634.3 L1903.0,634.8 L1904.5,635.3 L1905.9,635.8 L1907.4,636.3 L1908.9,636.8 L1910.3,637.3 L1911.8,637.8 L1913.3,638.3 L1914.7,638.8 L1916.2,639.3 L1917.7,639.7 L1919.1,640.2 L1920.6,640.7 L1922.1,641.2 L1923.5,641.7 L1925.0,642.1 L1926.4,642.6 L1927.9,643.1 L1929.4,643.6 L1930.8,644.0 L1932.3,644.5 L1933.8,645.0 L1935.2,645.4 L1936.7,645.9 L1938.2,646.4 L1939.6,646.8 L1941.1,647.3 L1942.6,647.7 L1944.0,648.2 L1945.5,648.6 L1947.0,649.1 L1948.4,649.6 L1949.9,650.0 L1951.4,650.5 L1952.8,650.9 L1954.3,651.3 L1955.7,651.8 L1957.2,652.2 L1958.7,652.7 L1960.1,653.1 L1961.6,653.6 L1963.1,654.0 L1964.5,654.4 L1966.0,654.9" stroke="#fdc800" stroke-width="4.2"/>
<path d="M1604.2,89.7 L1605.1,91.4 L1606.0,93.1 L1606.9,94.8 L1607.8,96.5 L1608.7,98.1 L1609.6,99.8 L1610.5,101.5 L1611.4,103.2 L1612.3,104.8 L1613.2,106.5 L1614.1,108.1 L1615.0,109.8 L1616.0,111.4 L1616.9,113.0 L1617.8,114.7 L1618.7,116.3 L1619.6,117.9 L1620.5,119.5 L1621.4,121.1 L1622.3,122.7 L1623.2,124.3 L1624.1,125.9 L1625.0,127.5 L1625.9,129.0 L1626.8,130.6 L1627.7,132.2 L1628.7,133.7 L1629.6,135.3 L1630.5,136.8 L1631.4,138.4 L1632.3,139.9 L1633.2,141.5 L1634.1,143.0 L1635.0,144.5 L1635.9,146.0 L1636.8,147.5 L1637.7,149.1 L1638.6,150.6 L1639.5,152.1 L1640.4,153.5 L1641.3,155.0 L1642.3,156.5 L1643.2,158.0 L1644.1,159.5 L1645.0,160.9 L1645.9,162.4 L1646.8,163.8 L1647.7,165.3 L1648.6,166.7 L1649.5,168.2 L1650.4,169.6 L1651.3,171.1 L1652.2,172.5 L1653.1,173.9 L1654.0,175.3 L1655.0,176.7 L1655.9,178.2 L1656.8,179.6 L1657.7,181.0 L1658.6,182.4 L1659.5,183.7 L1660.4,185.1 L1661.3,186.5 L1662.2,187.9 L1663.1,189.3 L1664.0,190.6 L1664.9,192.0 L1665.8,193.4 L1666.7,194.7 L1667.6,196.1 L1668.6,197.4 L1669.5,198.7 L1670.4,200.1 L1671.3,201.4 L1672.2,202.7 L1673.1,204.1 L1674.0,205.4 L1674.9,206.7 L1675.8,208.0 L1676.7,209.3 L1677.6,210.6 L1678.5,211.9 L1679.4,213.2 L1680.3,214.5 L1681.2,215.8 L1682.2,217.1 L1683.1,218.3 L1684.0,219.6 L1684.9,220.9 L1685.8,222.1 L1686.7,223.4 L1687.6,224.7 L1688.5,225.9 L1689.4,227.2 L1690.3,228.4 L1691.2,229.7 L1692.1,230.9 L1693.0,232.1 L1693.9,233.4 L1694.9,234.6 L1695.8,235.8 L1696.7,237.0 L1697.6,238.2 L1698.5,239.4 L1699.4,240.6 L1700.3,241.8 L1701.2,243.0 L1702.1,244.2 L1703.0,245.4 L1703.9,246.6 L1704.8,247.8 L1705.7,249.0 L1706.6,250.2 L1707.5,251.3 L1708.5,252.5 L1709.4,253.7 L1710.3,254.8 L1711.2,256.0 L1712.1,257.1 L1713.0,258.3 L1713.9,259.4 L1714.8,260.6 L1715.7,261.7 L1716.6,262.9 L1717.5,264.0 L1718.4,265.1 L1719.3,266.2 L1720.2,267.4 L1721.2,268.5 L1722.1,269.6 L1723.0,270.7 L1723.9,271.8 L1724.8,272.9 L1725.7,274.0 L1726.6,275.1 L1727.5,276.2 L1728.4,277.3 L1729.3,278.4 L1730.2,279.5 L1731.1,280.6 L1732.0,281.6 L1732.9,282.7 L1733.8,283.8 L1734.8,284.9 L1735.7,285.9 L1736.6,287.0 L1737.5,288.1 L1738.4,289.1 L1739.3,290.2 L1740.2,291.2 L1741.1,292.3 L1742.0,293.3 L1742.9,294.3 L1743.8,295.4 L1744.7,296.4 L1745.6,297.4 L1746.5,298.5 L1747.4,299.5 L1748.4,300.5 L1749.3,301.5 L1750.2,302.6 L1751.1,303.6 L1752.0,304.6 L1752.9,305.6 L1753.8,306.6 L1754.7,307.6 L1755.6,308.6 L1756.5,309.6 L1757.4,310.6 L1758.3,311.6 L1759.2,312.6 L1760.1,313.5 L1761.1,314.5 L1762.0,315.5 L1762.9,316.5 L1763.8,317.5 L1764.7,318.4 L1765.6,319.4 L1766.5,320.4 L1767.4,321.3 L1768.3,322.3 L1769.2,323.2 L1770.1,324.2 L1771.0,325.1 L1771.9,326.1 L1772.8,327.0 L1773.7,328.0 L1774.7,328.9 L1775.6,329.8 L1776.5,330.8 L1777.4,331.7 L1778.3,332.6 L1779.2,333.6 L1780.1,334.5 L1781.0,335.4 L1781.9,336.3 L1782.8,337.3 L1783.7,338.2 L1784.6,339.1 L1785.5,340.0 L1786.4,340.9 L1787.4,341.8 L1788.3,342.7 L1789.2,343.6 L1790.1,344.5 L1791.0,345.4 L1791.9,346.3 L1792.8,347.2 L1793.7,348.0 L1794.6,348.9 L1795.5,349.8 L1796.4,350.7 L1797.3,351.6 L1798.2,352.4 L1799.1,353.3 L1800.0,354.2 L1801.0,355.0 L1801.9,355.9 L1802.8,356.8 L1803.7,357.6 L1804.6,358.5 L1805.5,359.3 L1806.4,360.2 L1807.3,361.1 L1808.2,361.9 L1809.1,362.7 L1810.0,363.6 L1810.9,364.4 L1811.8,365.3 L1812.7,366.1 L1813.6,366.9 L1814.6,367.8 L1815.5,368.6 L1816.4,369.4 L1817.3,370.3 L1818.2,371.1 L1819.1,371.9 L1820.0,372.7 L1820.9,373.5 L1821.8,374.3 L1822.7,375.2 L1823.6,376.0 L1824.5,376.8 L1825.4,377.6 L1826.3,378.4 L1827.3,379.2 L1828.2,380.0 L1829.1,380.8 L1830.0,381.6 L1830.9,382.4 L1831.8,383.2 L1832.7,384.0 L1833.6,384.7 L1834.5,385.5 L1835.4,386.3 L1836.3,387.1 L1837.2,387.9 L1838.1,388.7 L1839.0,389.4 L1839.9,390.2 L1840.9,391.0 L1841.8,391.7 L1842.7,392.5 L1843.6,393.3 L1844.5,394.0 L1845.4,394.8 L1846.3,395.6 L1847.2,396.3 L1848.1,397.1 L1849.0,397.8 L1849.9,398.6 L1850.8,399.3 L1851.7,400.1 L1852.6,400.8 L1853.6,401.6 L1854.5,402.3 L1855.4,403.0 L1856.3,403.8 L1857.2,404.5 L1858.1,405.3 L1859.0,406.0 L1859.9,406.7 L1860.8,407.4 L1861.7,408.2 L1862.6,408.9 L1863.5,409.6 L1864.4,410.3 L1865.3,411.1 L1866.2,411.8 L1867.2,412.5 L1868.1,413.2 L1869.0,413.9 L1869.9,414.6 L1870.8,415.3 L1871.7,416.1 L1872.6,416.8 L1873.5,417.5 L1874.4,418.2 L1875.3,418.9 L1876.2,419.6 L1877.1,420.3 L1878.0,421.0 L1878.9,421.7 L1879.8,422.3 L1880.8,423.0 L1881.7,423.7 L1882.6,424.4 L1883.5,425.1 L1884.4,425.8 L1885.3,426.5 L1886.2,427.1 L1887.1,427.8 L1888.0,428.5 L1888.9,429.2 L1889.8,429.8 L1890.7,430.5 L1891.6,431.2 L1892.5,431.9 L1893.5,432.5 L1894.4,433.2 L1895.3,433.9 L1896.2,434.5 L1897.1,435.2 L1898.0,435.8 L1898.9,436.5 L1899.8,437.2 L1900.7,437.8 L1901.6,438.5 L1902.5,439.1 L1903.4,439.8 L1904.3,440.4 L1905.2,441.1 L1906.1,441.7 L1907.1,442.4 L1908.0,443.0 L1908.9,443.6 L1909.8,444.3 L1910.7,444.9 L1911.6,445.6 L1912.5,446.2 L1913.4,446.8 L1914.3,447.5 L1915.2,448.1 L1916.1,448.7 L1917.0,449.3 L1917.9,450.0 L1918.8,450.6 L1919.8,451.2 L1920.7,451.8 L1921.6,452.5 L1922.5,453.1 L1923.4,453.7 L1924.3,454.3 L1925.2,454.9 L1926.1,455.5 L1927.0,456.2 L1927.9,456.8 L1928.8,457.4 L1929.7,458.0 L1930.6,458.6 L1931.5,459.2 L1932.4,459.8 L1933.4,460.4 L1934.3,461.0 L1935.2,461.6 L1936.1,462.2 L1937.0,462.8 L1937.9,463.4 L1938.8,464.0 L1939.7,464.6 L1940.6,465.2 L1941.5,465.8 L1942.4,466.4 L1943.3,467.0 L1944.2,467.5 L1945.1,468.1 L1946.0,468.7 L1947.0,469.3 L1947.9,469.9 L1948.8,470.5 L1949.7,471.0 L1950.6,471.6 L1951.5,472.2 L1952.4,472.8 L1953.3,473.3 L1954.2,473.9 L1955.1,474.5 L1956.0,475.1 L1956.9,475.6 L1957.8,476.2 L1958.7,476.8 L1959.7,477.3 L1960.6,477.9 L1961.5,478.5 L1962.4,479.0 L1963.3,479.6 L1964.2,480.1 L1965.1,480.7 L1966.0,481.3" stroke="#000" stroke-width="3.6"/>
<path d="M1659.8,78.0 L1660.6,79.3 L1661.4,80.6 L1662.1,82.0 L1662.9,83.3 L1663.7,84.6 L1664.4,85.9 L1665.2,87.3 L1666.0,88.6 L1666.7,89.9 L1667.5,91.2 L1668.3,92.5 L1669.0,93.8 L1669.8,95.1 L1670.6,96.4 L1671.3,97.7 L1672.1,99.0 L1672.9,100.2 L1673.6,101.5 L1674.4,102.8 L1675.2,104.1 L1675.9,105.3 L1676.7,106.6 L1677.5,107.9 L1678.2,109.1 L1679.0,110.4 L1679.8,111.6 L1680.6,112.9 L1681.3,114.1 L1682.1,115.4 L1682.9,116.6 L1683.6,117.9 L1684.4,119.1 L1685.2,120.3 L1685.9,121.6 L1686.7,122.8 L1687.5,124.0 L1688.2,125.2 L1689.0,126.4 L1689.8,127.7 L1690.5,128.9 L1691.3,130.1 L1692.1,131.3 L1692.8,132.5 L1693.6,133.7 L1694.4,134.9 L1695.1,136.1 L1695.9,137.2 L1696.7,138.4 L1697.4,139.6 L1698.2,140.8 L1699.0,142.0 L1699.7,143.1 L1700.5,144.3 L1701.3,145.5 L1702.0,146.6 L1702.8,147.8 L1703.6,149.0 L1704.3,150.1 L1705.1,151.3 L1705.9,152.4 L1706.6,153.6 L1707.4,154.7 L1708.2,155.9 L1708.9,157.0 L1709.7,158.1 L1710.5,159.3 L1711.2,160.4 L1712.0,161.5 L1712.8,162.7 L1713.5,163.8 L1714.3,164.9 L1715.1,166.0 L1715.8,167.1 L1716.6,168.2 L1717.4,169.4 L1718.2,170.5 L1718.9,171.6 L1719.7,172.7 L1720.5,173.8 L1721.2,174.9 L1722.0,175.9 L1722.8,177.0 L1723.5,178.1 L1724.3,179.2 L1725.1,180.3 L1725.8,181.4 L1726.6,182.4 L1727.4,183.5 L1728.1,184.6 L1728.9,185.7 L1729.7,186.7 L1730.4,187.8 L1731.2,188.8 L1732.0,189.9 L1732.7,191.0 L1733.5,192.0 L1734.3,193.1 L1735.0,194.1 L1735.8,195.2 L1736.6,196.2 L1737.3,197.2 L1738.1,198.3 L1738.9,199.3 L1739.6,200.3 L1740.4,201.4 L1741.2,202.4 L1741.9,203.4 L1742.7,204.5 L1743.5,205.5 L1744.2,206.5 L1745.0,207.5 L1745.8,208.5 L1746.5,209.5 L1747.3,210.5 L1748.1,211.6 L1748.8,212.6 L1749.6,213.6 L1750.4,214.6 L1751.1,215.6 L1751.9,216.5 L1752.7,217.5 L1753.4,218.5 L1754.2,219.5 L1755.0,220.5 L1755.8,221.5 L1756.5,222.5 L1757.3,223.4 L1758.1,224.4 L1758.8,225.4 L1759.6,226.4 L1760.4,227.3 L1761.1,228.3 L1761.9,229.3 L1762.7,230.2 L1763.4,231.2 L1764.2,232.1 L1765.0,233.1 L1765.7,234.1 L1766.5,235.0 L1767.3,236.0 L1768.0,236.9 L1768.8,237.8 L1769.6,238.8 L1770.3,239.7 L1771.1,240.7 L1771.9,241.6 L1772.6,242.5 L1773.4,243.5 L1774.2,244.4 L1774.9,245.3 L1775.7,246.2 L1776.5,247.2 L1777.2,248.1 L1778.0,249.0 L1778.8,249.9 L1779.5,250.8 L1780.3,251.8 L1781.1,252.7 L1781.8,253.6 L1782.6,254.5 L1783.4,255.4 L1784.1,256.3 L1784.9,257.2 L1785.7,258.1 L1786.4,259.0 L1787.2,259.9 L1788.0,260.8 L1788.7,261.7 L1789.5,262.5 L1790.3,263.4 L1791.0,264.3 L1791.8,265.2 L1792.6,266.1 L1793.3,267.0 L1794.1,267.8 L1794.9,268.7 L1795.7,269.6 L1796.4,270.4 L1797.2,271.3 L1798.0,272.2 L1798.7,273.0 L1799.5,273.9 L1800.3,274.8 L1801.0,275.6 L1801.8,276.5 L1802.6,277.3 L1803.3,278.2 L1804.1,279.0 L1804.9,279.9 L1805.6,280.7 L1806.4,281.6 L1807.2,282.4 L1807.9,283.3 L1808.7,284.1 L1809.5,284.9 L1810.2,285.8 L1811.0,286.6 L1811.8,287.5 L1812.5,288.3 L1813.3,289.1 L1814.1,289.9 L1814.8,290.8 L1815.6,291.6 L1816.4,292.4 L1817.1,293.2 L1817.9,294.0 L1818.7,294.9 L1819.4,295.7 L1820.2,296.5 L1821.0,297.3 L1821.7,298.1 L1822.5,298.9 L1823.3,299.7 L1824.0,300.5 L1824.8,301.3 L1825.6,302.1 L1826.3,302.9 L1827.1,303.7 L1827.9,304.5 L1828.6,305.3 L1829.4,306.1 L1830.2,306.9 L1830.9,307.7 L1831.7,308.5 L1832.5,309.3 L1833.3,310.0 L1834.0,310.8 L1834.8,311.6 L1835.6,312.4 L1836.3,313.2 L1837.1,313.9 L1837.9,314.7 L1838.6,315.5 L1839.4,316.2 L1840.2,317.0 L1840.9,317.8 L1841.7,318.5 L1842.5,319.3 L1843.2,320.1 L1844.0,320.8 L1844.8,321.6 L1845.5,322.4 L1846.3,323.1 L1847.1,323.9 L1847.8,324.6 L1848.6,325.4 L1849.4,326.1 L1850.1,326.9 L1850.9,327.6 L1851.7,328.4 L1852.4,329.1 L1853.2,329.8 L1854.0,330.6 L1854.7,331.3 L1855.5,332.1 L1856.3,332.8 L1857.0,333.5 L1857.8,334.3 L1858.6,335.0 L1859.3,335.7 L1860.1,336.4 L1860.9,337.2 L1861.6,337.9 L1862.4,338.6 L1863.2,339.3 L1863.9,340.1 L1864.7,340.8 L1865.5,341.5 L1866.2,342.2 L1867.0,342.9 L1867.8,343.6 L1868.5,344.4 L1869.3,345.1 L1870.1,345.8 L1870.9,346.5 L1871.6,347.2 L1872.4,347.9 L1873.2,348.6 L1873.9,349.3 L1874.7,350.0 L1875.5,350.7 L1876.2,351.4 L1877.0,352.1 L1877.8,352.8 L1878.5,353.5 L1879.3,354.2 L1880.1,354.9 L1880.8,355.5 L1881.6,356.2 L1882.4,356.9 L1883.1,357.6 L1883.9,358.3 L1884.7,359.0 L1885.4,359.7 L1886.2,360.3 L1887.0,361.0 L1887.7,361.7 L1888.5,362.4 L1889.3,363.0 L1890.0,363.7 L1890.8,364.4 L1891.6,365.1 L1892.3,365.7 L1893.1,366.4 L1893.9,367.1 L1894.6,367.7 L1895.4,368.4 L1896.2,369.0 L1896.9,369.7 L1897.7,370.4 L1898.5,371.0 L1899.2,371.7 L1900.0,372.3 L1900.8,373.0 L1901.5,373.6 L1902.3,374.3 L1903.1,374.9 L1903.8,375.6 L1904.6,376.2 L1905.4,376.9 L1906.1,377.5 L1906.9,378.2 L1907.7,378.8 L1908.4,379.5 L1909.2,380.1 L1910.0,380.7 L1910.8,381.4 L1911.5,382.0 L1912.3,382.7 L1913.1,383.3 L1913.8,383.9 L1914.6,384.6 L1915.4,385.2 L1916.1,385.8 L1916.9,386.4 L1917.7,387.1 L1918.4,387.7 L1919.2,388.3 L1920.0,388.9 L1920.7,389.6 L1921.5,390.2 L1922.3,390.8 L1923.0,391.4 L1923.8,392.0 L1924.6,392.7 L1925.3,393.3 L1926.1,393.9 L1926.9,394.5 L1927.6,395.1 L1928.4,395.7 L1929.2,396.3 L1929.9,396.9 L1930.7,397.5 L1931.5,398.2 L1932.2,398.8 L1933.0,399.4 L1933.8,400.0 L1934.5,400.6 L1935.3,401.2 L1936.1,401.8 L1936.8,402.4 L1937.6,403.0 L1938.4,403.6 L1939.1,404.2 L1939.9,404.7 L1940.7,405.3 L1941.4,405.9 L1942.2,406.5 L1943.0,407.1 L1943.7,407.7 L1944.5,408.3 L1945.3,408.9 L1946.0,409.5 L1946.8,410.0 L1947.6,410.6 L1948.4,411.2 L1949.1,411.8 L1949.9,412.4 L1950.7,412.9 L1951.4,413.5 L1952.2,414.1 L1953.0,414.7 L1953.7,415.2 L1954.5,415.8 L1955.3,416.4 L1956.0,417.0 L1956.8,417.5 L1957.6,418.1 L1958.3,418.7 L1959.1,419.2 L1959.9,419.8 L1960.6,420.4 L1961.4,420.9 L1962.2,421.5 L1962.9,422.1 L1963.7,422.6 L1964.5,423.2 L1965.2,423.7 L1966.0,424.3" stroke="#3f4daf" stroke-width="3.6"/>
</g>
<rect x="1131" y="19.3" width="835" height="660" fill="none" stroke="#000" stroke-width="2.3"/>
<path d="M1131,613.2h20 M1966,613.2h-20 M1131,547.2h20 M1966,547.2h-20 M1131,481.2h20 M1966,481.2h-20 M1131,415.2h20 M1966,415.2h-20 M1131,349.2h20 M1966,349.2h-20 M1131,283.2h20 M1966,283.2h-20 M1131,217.2h20 M1966,217.2h-20 M1131,151.2h20 M1966,151.2h-20 M1131,85.2h20 M1966,85.2h-20 M1270.2,19.3v21 M1270.2,679.2v-21 M1409.3,19.3v21 M1409.3,679.2v-21 M1548.5,19.3v21 M1548.5,679.2v-21 M1687.7,19.3v21 M1687.7,679.2v-21 M1826.8,19.3v21 M1826.8,679.2v-21" stroke="#000" stroke-width="2.2" fill="none"/>
<g stroke="#000" stroke-width="2.3">
<circle cx="1214.5" cy="73.3" r="7.4" fill="#95dbe8"/>
<circle cx="1242.3" cy="178.9" r="7.4" fill="#95dbe8"/>
<circle cx="1270.2" cy="274.0" r="7.4" fill="#95dbe8"/>
<circle cx="1298.0" cy="343.9" r="7.4" fill="#95dbe8"/>
<circle cx="1325.8" cy="406.6" r="7.4" fill="#95dbe8"/>
<circle cx="1353.7" cy="456.5" r="7.4" fill="#95dbe8"/>
<circle cx="1381.5" cy="496.7" r="7.4" fill="#95dbe8"/>
<circle cx="1409.3" cy="527.1" r="7.4" fill="#95dbe8"/>
<circle cx="1437.2" cy="554.9" r="7.4" fill="#95dbe8"/>
<circle cx="1465.0" cy="585.4" r="7.4" fill="#95dbe8"/>
<circle cx="1492.8" cy="606.9" r="7.4" fill="#95dbe8"/>
<circle cx="1520.7" cy="625.1" r="7.4" fill="#95dbe8"/>
<circle cx="1548.5" cy="640.5" r="7.4" fill="#95dbe8"/>
<circle cx="1576.3" cy="656.6" r="7.4" fill="#95dbe8"/>
<circle cx="1604.2" cy="670.6" r="7.4" fill="#95dbe8"/>
<circle cx="1242.3" cy="96.1" r="7.4" fill="#c24fb4"/>
<circle cx="1270.2" cy="199.4" r="7.4" fill="#c24fb4"/>
<circle cx="1298.0" cy="281.5" r="7.4" fill="#c24fb4"/>
<circle cx="1325.8" cy="349.5" r="7.4" fill="#c24fb4"/>
<circle cx="1353.7" cy="400.7" r="7.4" fill="#c24fb4"/>
<circle cx="1381.5" cy="452.0" r="7.4" fill="#c24fb4"/>
<circle cx="1409.3" cy="488.5" r="7.4" fill="#c24fb4"/>
<circle cx="1437.2" cy="522.7" r="7.4" fill="#c24fb4"/>
<circle cx="1465.0" cy="547.2" r="7.4" fill="#c24fb4"/>
<circle cx="1492.8" cy="573.6" r="7.4" fill="#c24fb4"/>
<circle cx="1520.7" cy="595.0" r="7.4" fill="#c24fb4"/>
<circle cx="1548.5" cy="613.2" r="7.4" fill="#c24fb4"/>
<circle cx="1576.3" cy="631.1" r="7.4" fill="#c24fb4"/>
<circle cx="1604.2" cy="645.9" r="7.4" fill="#c24fb4"/>
<circle cx="1632.0" cy="660.1" r="7.4" fill="#c24fb4"/>
<circle cx="1659.8" cy="671.7" r="7.4" fill="#c24fb4"/>
<circle cx="1270.2" cy="114.4" r="7.4" fill="#70c300"/>
<circle cx="1298.0" cy="199.4" r="7.4" fill="#70c300"/>
<circle cx="1325.8" cy="269.7" r="7.4" fill="#70c300"/>
<circle cx="1353.7" cy="335.1" r="7.4" fill="#70c300"/>
<circle cx="1381.5" cy="392.1" r="7.4" fill="#70c300"/>
<circle cx="1409.3" cy="427.3" r="7.4" fill="#70c300"/>
<circle cx="1437.2" cy="470.6" r="7.4" fill="#70c300"/>
<circle cx="1465.0" cy="500.6" r="7.4" fill="#70c300"/>
<circle cx="1492.8" cy="528.6" r="7.4" fill="#70c300"/>
<circle cx="1520.7" cy="556.2" r="7.4" fill="#70c300"/>
<circle cx="1548.5" cy="574.9" r="7.4" fill="#70c300"/>
<circle cx="1576.3" cy="596.8" r="7.4" fill="#70c300"/>
<circle cx="1604.2" cy="616.0" r="7.4" fill="#70c300"/>
<circle cx="1632.0" cy="629.8" r="7.4" fill="#70c300"/>
<circle cx="1659.8" cy="645.7" r="7.4" fill="#70c300"/>
<circle cx="1687.7" cy="657.6" r="7.4" fill="#70c300"/>
<circle cx="1715.5" cy="669.9" r="7.4" fill="#70c300"/>
<circle cx="1353.7" cy="44.9" r="7.4" fill="#df2c1c"/>
<circle cx="1381.5" cy="130.5" r="7.4" fill="#df2c1c"/>
<circle cx="1409.3" cy="196.3" r="7.4" fill="#df2c1c"/>
<circle cx="1437.2" cy="258.8" r="7.4" fill="#df2c1c"/>
<circle cx="1465.0" cy="310.0" r="7.4" fill="#df2c1c"/>
<circle cx="1492.8" cy="348.8" r="7.4" fill="#df2c1c"/>
<circle cx="1520.7" cy="391.7" r="7.4" fill="#df2c1c"/>
<circle cx="1548.5" cy="423.4" r="7.4" fill="#df2c1c"/>
<circle cx="1576.3" cy="455.9" r="7.4" fill="#df2c1c"/>
<circle cx="1604.2" cy="482.0" r="7.4" fill="#df2c1c"/>
<circle cx="1632.0" cy="504.8" r="7.4" fill="#df2c1c"/>
<circle cx="1659.8" cy="530.2" r="7.4" fill="#df2c1c"/>
<circle cx="1687.7" cy="548.9" r="7.4" fill="#df2c1c"/>
<circle cx="1715.5" cy="565.3" r="7.4" fill="#df2c1c"/>
<circle cx="1743.3" cy="586.1" r="7.4" fill="#df2c1c"/>
<circle cx="1771.2" cy="599.1" r="7.4" fill="#df2c1c"/>
<circle cx="1799.0" cy="612.6" r="7.4" fill="#df2c1c"/>
<circle cx="1826.8" cy="623.6" r="7.4" fill="#df2c1c"/>
<circle cx="1854.7" cy="636.0" r="7.4" fill="#df2c1c"/>
<circle cx="1882.5" cy="645.7" r="7.4" fill="#df2c1c"/>
<circle cx="1910.3" cy="658.9" r="7.4" fill="#df2c1c"/>
<circle cx="1938.2" cy="668.8" r="7.4" fill="#df2c1c"/>
<circle cx="1966.0" cy="673.0" r="7.4" fill="#df2c1c"/>
<circle cx="1381.5" cy="98.0" r="7.4" fill="#fdc800"/>
<circle cx="1409.3" cy="163.6" r="7.4" fill="#fdc800"/>
<circle cx="1437.2" cy="225.5" r="7.4" fill="#fdc800"/>
<circle cx="1465.0" cy="283.7" r="7.4" fill="#fdc800"/>
<circle cx="1492.8" cy="328.0" r="7.4" fill="#fdc800"/>
<circle cx="1520.7" cy="364.4" r="7.4" fill="#fdc800"/>
<circle cx="1548.5" cy="401.6" r="7.4" fill="#fdc800"/>
<circle cx="1576.3" cy="435.4" r="7.4" fill="#fdc800"/>
<circle cx="1604.2" cy="462.2" r="7.4" fill="#fdc800"/>
<circle cx="1632.0" cy="490.8" r="7.4" fill="#fdc800"/>
<circle cx="1659.8" cy="513.8" r="7.4" fill="#fdc800"/>
<circle cx="1687.7" cy="533.8" r="7.4" fill="#fdc800"/>
<circle cx="1715.5" cy="555.4" r="7.4" fill="#fdc800"/>
<circle cx="1743.3" cy="572.3" r="7.4" fill="#fdc800"/>
<circle cx="1771.2" cy="583.3" r="7.4" fill="#fdc800"/>
<circle cx="1799.0" cy="600.2" r="7.4" fill="#fdc800"/>
<circle cx="1826.8" cy="610.0" r="7.4" fill="#fdc800"/>
<circle cx="1854.7" cy="626.2" r="7.4" fill="#fdc800"/>
<circle cx="1882.5" cy="636.0" r="7.4" fill="#fdc800"/>
<circle cx="1910.3" cy="645.2" r="7.4" fill="#fdc800"/>
<circle cx="1938.2" cy="658.4" r="7.4" fill="#fdc800"/>
<circle cx="1966.0" cy="665.4" r="7.4" fill="#fdc800"/>
<circle cx="1604.2" cy="90.7" r="7.4" fill="#000"/>
<circle cx="1632.0" cy="138.0" r="7.4" fill="#000"/>
<circle cx="1659.8" cy="184.1" r="7.4" fill="#000"/>
<circle cx="1687.7" cy="223.3" r="7.4" fill="#000"/>
<circle cx="1715.5" cy="263.6" r="7.4" fill="#000"/>
<circle cx="1743.3" cy="295.8" r="7.4" fill="#000"/>
<circle cx="1771.2" cy="325.7" r="7.4" fill="#000"/>
<circle cx="1799.0" cy="353.5" r="7.4" fill="#000"/>
<circle cx="1826.8" cy="377.1" r="7.4" fill="#000"/>
<circle cx="1854.7" cy="403.1" r="7.4" fill="#000"/>
<circle cx="1882.5" cy="421.1" r="7.4" fill="#000"/>
<circle cx="1910.3" cy="445.6" r="7.4" fill="#000"/>
<circle cx="1938.2" cy="466.9" r="7.4" fill="#000"/>
<circle cx="1966.0" cy="479.6" r="7.4" fill="#000"/>
<circle cx="1659.8" cy="78.2" r="7.4" fill="#3f4daf"/>
<circle cx="1687.7" cy="121.9" r="7.4" fill="#3f4daf"/>
<circle cx="1715.5" cy="170.5" r="7.4" fill="#3f4daf"/>
<circle cx="1743.3" cy="206.9" r="7.4" fill="#3f4daf"/>
<circle cx="1771.2" cy="236.0" r="7.4" fill="#3f4daf"/>
<circle cx="1799.0" cy="272.4" r="7.4" fill="#3f4daf"/>
<circle cx="1826.8" cy="305.4" r="7.4" fill="#3f4daf"/>
<circle cx="1854.7" cy="334.9" r="7.4" fill="#3f4daf"/>
<circle cx="1882.5" cy="351.7" r="7.4" fill="#3f4daf"/>
<circle cx="1910.3" cy="381.6" r="7.4" fill="#3f4daf"/>
<circle cx="1938.2" cy="407.1" r="7.4" fill="#3f4daf"/>
<circle cx="1966.0" cy="422.2" r="7.4" fill="#3f4daf"/>
</g>
<g font-family="Liberation Serif, serif" font-size="33" fill="#000">
<text x="1118" y="688.0" text-anchor="end">300</text>
<text x="1118" y="622.0" text-anchor="end">400</text>
<text x="1118" y="556.0" text-anchor="end">500</text>
<text x="1118" y="490.0" text-anchor="end">600</text>
<text x="1118" y="424.0" text-anchor="end">700</text>
<text x="1118" y="358.0" text-anchor="end">800</text>
<text x="1118" y="292.0" text-anchor="end">900</text>
<text x="1118" y="226.0" text-anchor="end">1000</text>
<text x="1118" y="160.0" text-anchor="end">1100</text>
<text x="1118" y="94.0" text-anchor="end">1200</text>
<text x="1118" y="28.0" text-anchor="end">1300</text>
<text x="1133.5" y="715" text-anchor="middle">0</text>
<text x="1271.7" y="715" text-anchor="middle">5</text>
<text x="1406.3" y="715" text-anchor="middle">10</text>
<text x="1545.0" y="715" text-anchor="middle">15</text>
<text x="1683.4" y="715" text-anchor="middle">20</text>
<text x="1822.0" y="715" text-anchor="middle">25</text>
<text x="1962.0" y="715" text-anchor="middle">30</text>
<text x="1547.8" y="766" text-anchor="middle" font-size="33.6">Scan number</text>
<text transform="translate(1026.2,350) rotate(-90)" text-anchor="middle">PSL value</text>
<text x="1141" y="51" font-weight="bold" font-size="36" letter-spacing="0.8">(b)</text>
</g>
</g>
</svg>
</body></html>
